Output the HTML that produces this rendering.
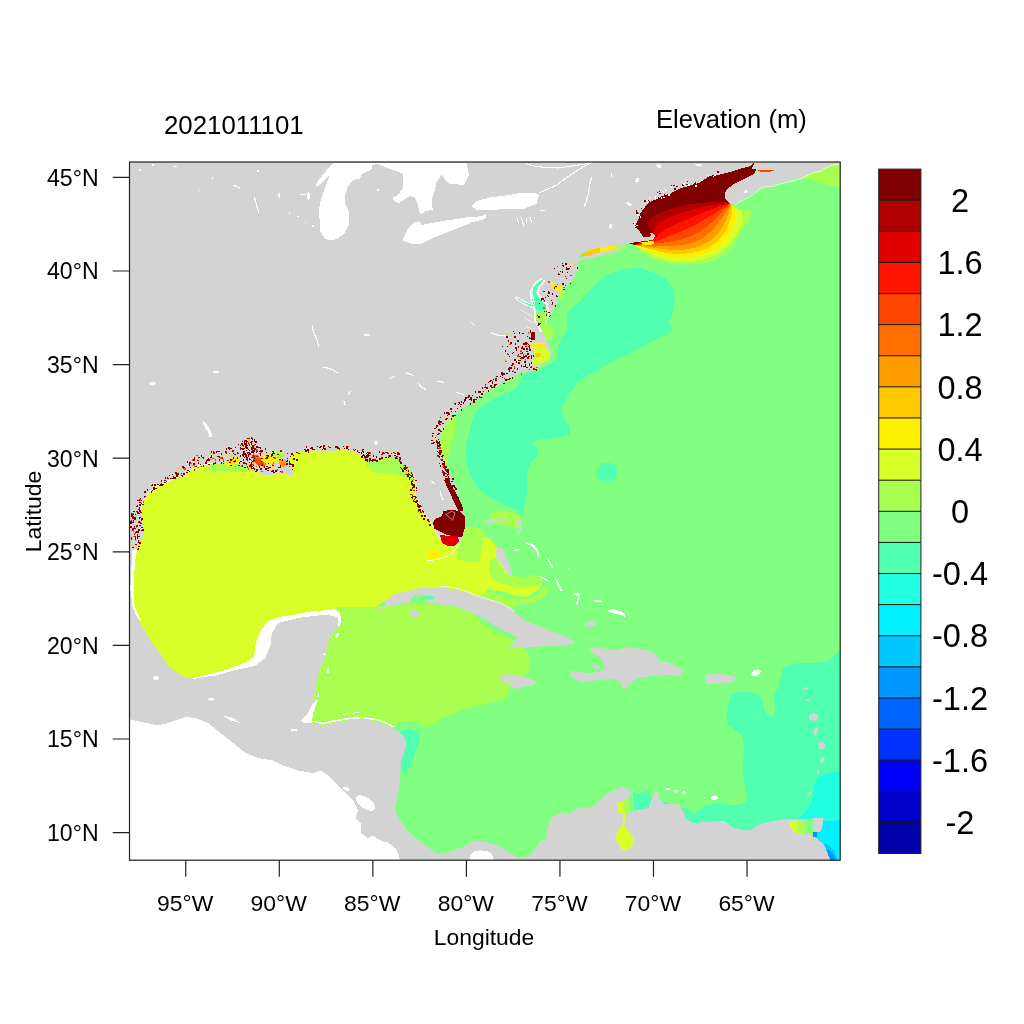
<!DOCTYPE html><html><head><meta charset="utf-8"><title>Elevation</title><style>html,body{margin:0;padding:0;background:#fff;overflow:hidden}svg{display:block}text{font-family:"Liberation Sans",Arial,sans-serif;fill:#000}</style></head><body>
<svg width="1024" height="1024" viewBox="0 0 1024 1024">
<rect width="1024" height="1024" fill="#fff"/>
<defs><clipPath id="pc"><rect x="129.5" y="162.0" width="710.7" height="698.2"/></clipPath></defs>
<g clip-path="url(#pc)" shape-rendering="crispEdges">
<path fill="#80ff80" d="M127.5 160 L842.2 160 L842.2 862.2 L127.5 862.2Z"/>
<path fill="#50ffb0" d="M640 267.5 L650 271.2 L665 277.5 L672.5 287.5 L675 300 L672.5 312.5 L668.8 320 L672.5 330 L665 335 L650 342.5 L632.5 352.5 L615 360 L600 369.1 L588.4 375.3 L577.5 383.1 L568.1 395.6 L561.9 408.1 L563.4 417.5 L569.7 426.9 L569.7 434.7 L558.8 437.8 L540 439.4 L532.2 442.5 L536.9 448.8 L538.4 455 L530.6 462.8 L527.5 470.6 L526.7 480 L527.5 490 L526.5 495 L524 507.5 L521.5 517.5 L519 512.5 L511.5 507.5 L499 502.5 L486.5 495 L479 490 L475.9 484.7 L471.2 476.9 L466.6 464.4 L465.8 448.8 L468.1 436.2 L471.2 423.8 L475.9 412.8 L483.8 405 L493.1 398.8 L502.5 394.1 L511.9 390.9 L518.1 386.2 L522.8 376.9 L527.5 372.2 L536.9 370.6 L549.4 364.4 L557.9 358 L558.8 344 L560.8 338.1 L564.7 334.2 L567.6 330.3 L566.6 323.5 L566.6 316.6 L568.6 310.8 L572.5 306.9 L578.4 303 L584.2 297.1 L590.1 289.3 L597.9 282.5 L603.8 276.6 L610 273.7 L624 268.8Z"/>
<path fill="#50ffb0" d="M617.5 472 L616.7 475.6 L614.4 478.7 L611 480.8 L607 481.5 L603 480.8 L599.6 478.7 L597.3 475.6 L596.5 472 L597.3 468.4 L599.6 465.3 L603 463.2 L607 462.5 L611 463.2 L614.4 465.3 L616.7 468.4Z"/>
<path fill="#50ffb0" d="M841 650.9 L838.8 650.9 L832.5 657.2 L826.2 661.9 L813.8 662.7 L798.1 662.7 L785.6 666.6 L780.9 669.7 L782.5 674.4 L779.4 680.6 L777.8 688.4 L773.1 694.7 L774.7 702.5 L774.7 711.9 L771.6 716.6 L766.9 715 L763.8 707.2 L762.2 699.4 L757.5 694.7 L748.1 692.3 L735.6 692.3 L730.9 694.7 L727.8 705.6 L726.2 715 L727.8 724.4 L735.6 730.6 L741.9 735.3 L744.2 746.2 L743.4 757.2 L743.4 772.8 L745 788.4 L747.5 800 L745 803 L732.5 805.5 L717.5 803 L705 805.5 L695 813 L685 808 L675 805.5 L660 800 L645 795 L633 792 L632 800 L660 830 L841 830Z"/>
<path fill="#20ffe0" d="M841 771 L838.8 771.2 L829.4 772.8 L820 775.9 L813.8 785.3 L812.2 800 L809.7 806 L805 812 L800 818 L841 861Z"/>
<path fill="#00f0ff" d="M816 822 L841 820 L841 861 L830 861 L827 852 L824 844.4 L817.7 839.6 L814 836Z"/>
<path fill="#00c8ff" d="M824 843.5 L829 845 L834 851 L837 858 L837 861 L830 861 L827 852Z"/>
<path fill="#0096ff" d="M827 850 L831 851 L834.5 856 L835 861 L830 861Z"/>
<path fill="#d8ff28" d="M125 430 L300 430 L380 445 L420 465 L425 480 L432 505 L441 530 L452 548 L459 532 L470 528 L483 536 L492 540 L497 548 L499 556 L504 566 L509 574 L520 579 L535 578.5 L540.3 578.2 L542 584 L538 590 L527 597 L515 596 L500 591 L488 590 L480 596 L460 593 L440 591 L420 590 L400 594 L385 601 L374 607 L360 607.5 L335 607.5 L335 640 L255 690 L125 690Z"/>
<path fill="#a8ff50" d="M335 607.5 L372 607 L420 603 L466 608 L476.5 618 L489 628 L504 635.5 L516.5 643 L526.5 650.5 L530.2 660.5 L529 670.5 L521.5 678 L511.5 683 L509 690.5 L506.5 698 L494 701.8 L479 705.5 L462.3 709.5 L452.8 714.2 L443.3 717.4 L433.8 723.7 L425.9 727.7 L418 722.2 L408.5 720.6 L399 722.2 L392.7 727.7 L380 730 L300 730 L300 640 L328 640 L333 633 L335 614Z"/>
<path fill="#50ffb0" d="M400.6 731.6 L408.5 729.3 L416.4 730.9 L420.3 736.4 L418 745.9 L413.2 755.4 L410.1 766.5 L402.2 774.4 L400.6 769.6 L398 760 L398 740Z"/>
<path fill="#a8ff50" d="M800 178 L808.5 179 L818.6 182.2 L828.8 185.4 L841 187.3 L841 160 L800 160Z"/>
<path fill="#a8ff50" d="M364 457 L372 462 L385 456 L395 456 L405 464 L414 473 L417 482 L415.5 487 L414.4 481.4 L411.2 479 L405.8 477.5 L398 475.2 L390.2 473.6 L378.4 472.8 L373 472 L365.9 465Z"/>
<path fill="#a8ff50" d="M449 419.6 L452 414 L456.2 421 L455 432 L451 445 L448 458 L446.5 468 L448.5 476 L445 470 L442 460 L440 448 L441 435 L444 426.7Z"/>
<path fill="#a8ff50" d="M457.6 528.8 L465.4 526.9 L479 527.9 L484.9 530.8 L484.9 538.6 L482 544.5 L481 554.2 L479 562 L469.3 562 L458.6 560.1 L456.6 550.3 L457.6 538.6Z"/>
<path fill="#a8ff50" d="M489.8 560.1 L496.6 558.1 L498.6 562 L504.5 571.8 L510.3 576.7 L518.1 578.6 L525.9 577.7 L531.8 573.8 L529.8 567.9 L524 560.1 L522 557.1 L525.9 557.1 L531.8 562 L537.7 571.8 L541.6 577.7 L543.5 581.6 L537.7 585.5 L525.9 587.4 L514.2 586.5 L502.5 583.5 L492.7 579.6 L488.8 571.8Z"/>
<path fill="#80ff80" d="M522 557.5 L526 557 L532 562 L537.5 571.5 L541 577 L532 574 L528 567 L524 561Z"/>
<path fill="#a8ff50" d="M486.9 591.3 L498 594.5 L508.4 597.2 L518 598.5 L527.9 599.1 L537.7 595.2 L545.5 585.5 L549.4 589.4 L543.5 597.2 L533.8 603 L518.1 605 L509.5 608.7 L499.2 602.6 L488.9 599.5 L480 597Z"/>
<path fill="#a8ff50" d="M490.8 513 L500 511 L512 512 L520 516 L522 522 L521 528.8 L512 527 L500 525 L491 522Z"/>
<path fill="#a8ff50" d="M636.3 247 L640.2 250.9 L649 257.2 L659.2 261 L671.9 263.6 L687.1 264.2 L703.6 263.6 L716.3 259.7 L726.5 253.4 L735.4 243.2 L739.2 233.1 L744.3 226.7 L749.3 220.4 L751.9 214 L749.3 210.2 L737.9 209 L732 204.5 L745 195 L760 161 L618 161 L618 240 L635 245Z"/>
<path fill="#d8ff28" d="M641 249.5 L643.9 250.8 L654.6 256.6 L669.3 261 L686.9 262.5 L703.5 259.6 L718.1 253.7 L728.9 244.9 L736.7 235.2 L741 226 L743.5 217 L741 211 L735.4 207.7 L731.5 204.3 L745 195 L760 161 L618 161 L618 240 L635 245Z"/>
<path fill="#fff000" d="M646 249.5 L649.8 250.8 L659.5 254.7 L674.2 257.6 L688.8 258.1 L703.5 254.7 L716.2 248.8 L725.9 240 L732.8 229.3 L735.7 218.6 L734.7 209.8 L732.3 205.9 L731 204 L745 195 L760 161 L618 161 L618 240 L635 245Z"/>
<path fill="#ffc800" d="M652.7 249.8 L664.4 252.7 L679.1 254.2 L693.7 252.7 L706.4 248.8 L717.1 242 L725 232.2 L729.8 221.5 L732.3 211.7 L731.8 205.9 L730.5 203.8 L745 195 L760 161 L618 161 L618 240 L635 245Z"/>
<path fill="#ff9c00" d="M654.6 247.9 L669.3 249.8 L683.9 249.8 L698.6 246.9 L710.3 241 L719.1 232.2 L725 222.5 L728.9 212.7 L730.8 205.4 L730.3 203.6 L745 195 L760 161 L618 161 L618 240 L635 245Z"/>
<path fill="#ff7000" d="M654.6 245.9 L669.3 245.9 L683.9 244.9 L694.7 242 L704.5 237.1 L713.2 229.3 L721 219.5 L726.9 210.7 L730.3 204.9 L730 203.4 L745 195 L760 161 L618 161 L618 240 L635 245Z"/>
<path fill="#ff4600" d="M654.6 243.9 L667.3 242 L679.1 240 L688.8 237.1 L698.6 232.2 L708.4 225.4 L717.1 217.6 L724 209.8 L729.8 204.4 L729.8 203.2 L745 195 L760 161 L618 161 L618 240 L635 245Z"/>
<path fill="#ff1400" d="M654.6 242 L664.4 238.1 L674.2 234.2 L683.9 230.3 L694.7 225.4 L704.5 219.5 L714.2 213.7 L723 207.8 L729.4 203.9 L729.6 203 L745 195 L760 161 L618 161 L618 240 L635 245Z"/>
<path fill="#e00000" d="M654.6 239.1 L659.5 233.2 L667.3 228.3 L677.1 223.4 L686.9 219.5 L698.6 214.6 L710.3 209.8 L721 205.9 L728.9 203.4 L729.5 202.8 L745 195 L760 161 L618 161 L618 240 L635 245Z"/>
<path fill="#b00000" d="M653.7 235.2 L653.7 231.2 L656.6 225.4 L662.5 220.5 L671.2 216.6 L682 212.7 L693.7 209.3 L706.4 206.3 L718.1 204.4 L727.9 202.9 L729.5 202.6 L745 195 L760 161 L618 161 L618 240 L635 245Z"/>
<path fill="#800000" d="M652.7 233.2 L648.8 228.3 L647.8 222.5 L650.7 217.6 L657.6 213.7 L667.3 209.8 L677.1 206.8 L688.8 204.4 L700.5 202.9 L713.2 202 L725 202 L729.8 202.4 L745 195 L760 161 L618 161 L618 240 L635 245Z"/>
<path fill="#d3d3d3" d="M127 160 L843 160 L843 163.2 L838.9 163.2 L833.9 163.8 L828.8 165.7 L823.7 167.6 L821.2 170.2 L813.6 171.4 L808.5 174 L803.4 176.5 L795.8 179 L788.2 181 L780.6 182.9 L772.9 185.4 L765.3 185.4 L760.2 187.9 L755.2 191.7 L747.5 196.8 L739.9 200.6 L734.9 204.4 L729.8 203.2 L724.7 198.1 L724.7 193 L727.2 189.2 L733.6 184.1 L741.2 180.3 L748.8 176.5 L756.4 172.7 L761 171.3 L757 169.8 L752 168.5 L753.9 164 L755.5 162.5 L754 162.5 L750.1 166.3 L742.5 168 L734.9 170.5 L727.2 172.9 L720 174.5 L712.5 175.3 L707 177.5 L701.2 182 L695 184.3 L687.5 186.2 L680 188.6 L675 191 L670 193.8 L662.5 195.8 L657.5 198.8 L651.2 201.2 L647.5 203.8 L643.8 208.8 L640 213.8 L638.8 218.8 L636.2 223.8 L635 227.5 L638.8 230 L641.2 233.8 L643 237 L648 237.5 L651.5 236 L649.5 232.5 L652.9 233.1 L654.8 235.6 L654.3 238.8 L651.6 240.2 L646 240.8 L642.7 241.2 L636.3 242.3 L633.5 242.6 L628.6 243.4 L624.7 244.9 L618.8 245.9 L609.1 246.9 L599.3 248.3 L589.5 250.3 L582.7 253.2 L579.5 256 L578.6 260 L578.4 263.9 L577.4 269.8 L575.4 275.6 L571.5 280.5 L566.6 286.4 L562.7 290.3 L559.8 293.2 L558.8 297.1 L557.9 301 L555.9 305.9 L553 310.8 L549.1 316.6 L546.1 321.5 L543.2 324.5 L542.2 328.4 L542.2 330.3 L544.2 334.2 L546.1 338.1 L548.1 343 L550 347.9 L551 353.8 L550.3 358.5 L549.4 359.9 L540.6 365.2 L533.6 370.4 L523 372.2 L514.3 375.7 L507.2 381 L500.2 384.5 L491.4 388 L484.4 393.3 L479.1 398.6 L470.3 403.8 L461.5 409.1 L454.5 414.4 L449.2 419.6 L443.9 426.7 L440.4 435.5 L439.5 444.3 L441.9 452.7 L444.4 462.9 L448.2 471.7 L453.3 480.6 L455.9 488.2 L458.4 495.9 L460.9 503.5 L463.5 511.1 L464.7 518.7 L464.7 528.9 L463.5 536.5 L460.9 541.6 L457.1 545.4 L450.8 546.6 L445.7 545.4 L441.9 540.3 L436.8 533.9 L433 527.6 L430.5 521.3 L425.4 516.2 L421.6 508.6 L417.8 500.9 L415.2 494.6 L416.5 488.2 L415.8 481 L413.5 474.5 L409.5 469 L405.2 465.6 L400.6 461.6 L394.4 457.3 L388.1 456.6 L383.4 457.3 L377.2 460.5 L369.4 461.2 L364.7 459.7 L360 455 L353.8 451.9 L347.5 450.3 L338.1 450.3 L330.3 451.1 L322.5 451.9 L314.7 450.3 L306.9 451.9 L300.6 451.4 L294.3 452.7 L290.4 456.5 L289.2 462.9 L291.7 467.9 L294.3 473 L291.7 475.5 L284.1 473.6 L276.5 474.3 L268.9 474.9 L261.3 474.3 L256.2 471.7 L251.1 469.2 L243.5 467.9 L235.9 467.3 L228.2 465.4 L220.6 464.1 L213 463.5 L205.4 464.8 L199.1 466.5 L190.5 470.8 L179.8 477.2 L169 481.5 L158.3 485.8 L149.7 492.3 L143.2 500.9 L141.1 511.6 L142.1 522.4 L144.3 533.1 L141.1 541.7 L137.8 548.2 L132.5 550.3 L131.4 567.5 L130.3 589 L132.5 606.2 L136.8 617 L145.4 632 L154 645 L160.4 653.5 L169 666.5 L177.6 672.9 L184.1 677.2 L190.5 678 L203 676.5 L215.5 675.5 L233 670.5 L245.5 668 L255.5 665.5 L265.5 658 L270.5 645.5 L271.8 633 L278 623 L298 618 L318 615.5 L333 614.2 L338 618 L340.5 623 L338 628 L333 633 L328 643 L325.5 658 L320.5 668 L318 675.5 L315.5 690.5 L313 703 L308 713 L300.5 720.5 L303 723 L313 723 L323 725.5 L333 723 L348 720.5 L363 719.2 L378 721.8 L380 723.7 L387.9 725.3 L392.7 728.5 L400.6 733.2 L405.3 738 L406.1 745.9 L403.7 753.8 L401.4 760.1 L400.6 768 L399.8 779.1 L399 788.6 L397.4 798.1 L395 807.6 L397.4 815.5 L402.2 823.4 L408.5 831.3 L414.8 837.7 L421.1 842.4 L427.5 847.2 L433.8 851.9 L440.1 854.3 L446.5 853.5 L454.4 850.3 L462.3 847.2 L468.6 844 L471.8 841.6 L478.1 840.8 L486 842.4 L493.9 844 L503.4 848.7 L511.3 853.5 L517.7 857.4 L522.4 858.2 L530.3 855.9 L534.7 849.7 L539.4 841.9 L545.6 838.8 L547.2 829.4 L550.3 818.4 L555 816.1 L562.8 812.2 L569.1 814.5 L573.8 810.6 L576.9 808.3 L589.4 808.3 L595.6 805.2 L601.9 798.1 L608.1 793.4 L615.9 788.8 L623.8 786.4 L630 790.3 L631.6 795 L626.9 799.7 L620.6 802.8 L617 806 L625 812 L640 810 L648.8 807.8 L650.3 803.4 L654.7 792 L655.9 790.3 L658.1 791.9 L659.4 797.8 L662.8 803.4 L670.6 804.4 L678.4 804.4 L683.2 811.1 L686.3 819.1 L692.7 823 L703.7 822.2 L714.8 821.4 L724.3 820.6 L727.5 823.8 L733.8 827.8 L743.3 830.1 L751.2 830.1 L756 826.2 L762.3 823.8 L771.8 821.4 L782.8 819.8 L790.8 819.1 L800.3 819.1 L806.6 819.1 L814.5 818.3 L822.4 817.5 L823.2 820.6 L822.4 823.8 L820.8 830.1 L812.9 831.7 L811.3 834.9 L817.7 839.6 L824 844.4 L827.2 852.3 L830.3 860.2 L831 863 L127 863Z"/>
<path fill="#d3d3d3" d="M374.1 610.8 L384.4 606.7 L386.4 600.5 L394.6 594.4 L406.9 591.3 L419.2 588.2 L431.5 587.2 L443.8 588.2 L456.1 589.2 L466.4 592.3 L476.6 596.4 L488.9 599.5 L499.2 602.6 L509.5 608.7 L517.7 614.9 L525.9 621 L534.1 624.1 L544.3 627.2 L550.5 631.3 L558.7 633.3 L566.9 637.4 L575.1 641.5 L573 643.6 L562.8 645.6 L550.5 645.6 L538.2 646.7 L525.9 647.7 L513.6 647.7 L509.5 646.7 L513.6 641.5 L517.7 637.4 L509.5 633.3 L501.3 629.2 L493.1 625.1 L484.8 619 L476.6 614.9 L466.4 610.8 L458.2 606.7 L447.9 605.6 L439.7 604.6 L431.5 602.6 L423.3 602.6 L415.1 602.6 L406.9 602.6 L396.7 604.6 L388.5 605.6 L382.3 608.7 L376.2 610.8Z"/>
<path fill="#d3d3d3" d="M589.3 649.5 L595.2 647.6 L604.9 648.6 L612.7 650.5 L620.5 649.5 L624.5 647.6 L634.2 647.6 L642 649.5 L651.8 651.5 L655.7 654.4 L657.7 659.3 L661.6 661.3 L669.4 663.2 L675.2 665.2 L681.1 669.1 L684 672 L681.1 674.9 L677.2 675.9 L669.4 674.9 L661.6 674.9 L653.8 675.9 L644 676.9 L638.1 677.9 L634.2 680.8 L630.3 684.7 L626.4 688.6 L624.5 690.5 L622.5 686.6 L620.5 682 L613.1 678.5 L604 679.5 L596 680.5 L588 681.5 L580.9 681.5 L574 679 L570.2 676 L569.8 673.5 L571.7 671 L579.5 672 L589.3 673 L599.1 672 L604.9 669.1 L603.9 664.2 L602 659.3 L597.1 655.4 L591.3 652.5 L589.3 650.5Z"/>
<path fill="#d3d3d3" d="M497.8 676.8 L506.5 674.2 L519 675.5 L531.5 679.2 L536.5 683 L531.5 685.5 L524 685.5 L519 689.2 L514 688 L506.5 683 L499 679.2Z"/>
<path fill="#d3d3d3" d="M704.5 674.9 L716.3 673.9 L728 674.9 L734.8 675.9 L735.8 678.8 L731.9 682.7 L720.2 683.7 L708.4 684.3 L705.5 681.8Z"/>
<path fill="#d3d3d3" d="M578.8 261 L589.5 258.6 L599.3 256.1 L609.1 253.7 L618.8 251.3 L624.5 249.6 L625.5 248.5 L618.8 248.9 L612 249.9 L604.2 251.8 L594.4 253.8 L584 256.5 L580 258.3Z"/>
<path fill="#d3d3d3" d="M496.6 548.4 L502.5 548.4 L506.4 558.1 L510.3 565.9 L512.3 573.8 L509.3 575.7 L506.4 571.8 L502.5 565.9 L498.6 560.1 L495.7 556.2Z"/>
<path fill="#d3d3d3" d="M419 613.8 L418.6 615.2 L417.5 616.3 L415.9 617.1 L414 617.4 L412.1 617.1 L410.5 616.3 L409.4 615.2 L409 613.8 L409.4 612.4 L410.5 611.3 L412.1 610.5 L414 610.2 L415.9 610.5 L417.5 611.3 L418.6 612.4Z"/>
<path fill="#d3d3d3" d="M600.2 668.1 L599.8 668.6 L598.8 668.9 L597.3 669 L595.7 668.8 L594.1 668.3 L592.8 667.7 L592 667 L591.8 666.3 L592.2 665.8 L593.2 665.5 L594.7 665.4 L596.3 665.6 L597.9 666.1 L599.2 666.7 L600 667.4Z"/>
<path fill="#d3d3d3" d="M818 717 L817.7 718.5 L816.7 719.7 L815.2 720.5 L813.5 720.8 L811.8 720.5 L810.3 719.7 L809.3 718.5 L809 717 L809.3 715.5 L810.3 714.3 L811.8 713.5 L813.5 713.2 L815.2 713.5 L816.7 714.3 L817.7 715.5Z"/>
<path fill="#d3d3d3" d="M817.5 732 L816.9 733.3 L816.2 734.4 L815.3 735.1 L814.5 735.1 L813.9 734.6 L813.6 733.6 L813.6 732.3 L813.9 730.8 L814.5 729.5 L815.2 728.4 L816.1 727.7 L816.9 727.7 L817.5 728.2 L817.8 729.2 L817.8 730.5Z"/>
<path fill="#d3d3d3" d="M824.4 744 L824.9 745.4 L824.9 746.8 L824.4 748.1 L823.5 748.9 L822.3 749.2 L820.9 749 L819.7 748.2 L818.8 747 L818.3 745.6 L818.3 744.2 L818.8 742.9 L819.7 742.1 L820.9 741.8 L822.3 742 L823.5 742.8Z"/>
<path fill="#d3d3d3" d="M823.9 760.5 L823.2 761.7 L822.5 762.6 L821.7 763.1 L821 763.1 L820.6 762.6 L820.4 761.7 L820.5 760.6 L820.9 759.3 L821.6 758.1 L822.3 757.2 L823.1 756.7 L823.8 756.7 L824.2 757.2 L824.4 758.1 L824.3 759.2Z"/>
<path fill="#d3d3d3" d="M819.5 772 L819.4 772.9 L819.2 773.6 L818.8 774.1 L818.4 774.3 L818 774.1 L817.6 773.6 L817.4 772.9 L817.3 772 L817.4 771.1 L817.6 770.4 L818 769.9 L818.4 769.7 L818.8 769.9 L819.2 770.4 L819.4 771.1Z"/>
<path fill="#d3d3d3" d="M810.1 794.6 L809.6 795.3 L809 795.9 L808.4 796.1 L807.9 796 L807.5 795.6 L807.4 795 L807.5 794.2 L807.9 793.4 L808.4 792.7 L809 792.1 L809.6 791.9 L810.1 792 L810.5 792.4 L810.6 793 L810.5 793.8Z"/>
<path fill="#d3d3d3" d="M807.6 688.5 L807.5 689 L807.1 689.5 L806.6 689.8 L806 689.9 L805.4 689.8 L804.9 689.5 L804.5 689 L804.4 688.5 L804.5 688 L804.9 687.5 L805.4 687.2 L806 687.1 L806.6 687.2 L807.1 687.5 L807.5 688Z"/>
<path fill="#d3d3d3" d="M809.1 699.8 L809 700.3 L808.6 700.7 L808 701 L807.3 701.1 L806.6 701 L806 700.7 L805.6 700.3 L805.5 699.8 L805.6 699.3 L806 698.9 L806.6 698.6 L807.3 698.5 L808 698.6 L808.6 698.9 L809 699.3Z"/>
<path fill="#ffffff" d="M760.4 670.6 L760.6 671.8 L760.1 673.2 L759 674.5 L757.4 675.6 L755.6 676.3 L753.9 676.6 L752.5 676.2 L751.6 675.4 L751.4 674.2 L751.9 672.8 L753 671.5 L754.6 670.4 L756.4 669.7 L758.1 669.4 L759.5 669.8Z"/>
<path fill="#ffffff" d="M717.7 798 L717.5 798.8 L716.8 799.4 L715.7 799.8 L714.5 800 L713.3 799.8 L712.2 799.4 L711.5 798.8 L711.3 798 L711.5 797.2 L712.2 796.6 L713.3 796.2 L714.5 796 L715.7 796.2 L716.8 796.6 L717.5 797.2Z"/>
<path fill="#ffffff" d="M678.3 792 L677.9 792.4 L677.3 792.5 L676.4 792.5 L675.5 792.2 L674.7 791.7 L674 791.2 L673.7 790.6 L673.7 790 L674.1 789.6 L674.7 789.5 L675.6 789.5 L676.5 789.8 L677.3 790.3 L678 790.8 L678.3 791.4Z"/>
<path fill="#ffffff" d="M685.8 792.5 L685.7 793 L685.3 793.3 L684.7 793.6 L684 793.7 L683.3 793.6 L682.7 793.3 L682.3 793 L682.2 792.5 L682.3 792 L682.7 791.7 L683.3 791.4 L684 791.3 L684.7 791.4 L685.3 791.7 L685.7 792Z"/>
<path fill="#ffffff" d="M669.8 789 L669.7 789.5 L669.3 789.8 L668.7 790.1 L668 790.2 L667.3 790.1 L666.7 789.8 L666.3 789.5 L666.2 789 L666.3 788.5 L666.7 788.2 L667.3 787.9 L668 787.8 L668.7 787.9 L669.3 788.2 L669.7 788.5Z"/>
<path fill="#d3d3d3" d="M484.9 519.5 L495 518.8 L504.5 519.5 L504.5 522.5 L495 522.3 L485.5 523Z"/>
<path fill="#d3d3d3" d="M514.2 519 L518 519.5 L522 523 L522 530 L519 534.7 L517.5 533.5 L519.5 528 L518 523 L515 521Z"/>
<path fill="#d3d3d3" d="M584.5 624 L590 621 L596.2 620.6 L595.5 625 L590 627.5 L585 627.2Z"/>
<path fill="#ffffff" d="M525.5 542 L531.8 543.8 L538 549.8 L539.6 557.1 L538 557.5 L536.8 550.8 L531.2 545.5 L526 543.8Z"/>
<path fill="#ffffff" d="M546.4 558 L547.6 558 L553.3 567 L552.2 568Z"/>
<path fill="#ffffff" d="M537.7 575.7 L539 575.5 L549.4 581 L548.5 582Z"/>
<path fill="#ffffff" d="M554.3 576.7 L555.5 576.5 L559 584 L562 590.5 L560.8 591.3 L557.5 585Z"/>
<path fill="#ffffff" d="M572.8 592.5 L578 593 L580.6 595 L577 605 L575.8 604.5 L578.5 596.5 L574 594.5Z"/>
<path fill="#ffffff" d="M594.3 600 L600 599.8 L602 601.5 L600 602.3 L595 601.8Z"/>
<path fill="#ffffff" d="M608 610.5 L612 609 L617 610 L622 612 L625.5 615 L624.5 616.7 L619 614.3 L611 612.8Z"/>
<path fill="#ffffff" d="M519.9 549.1 L519.8 549.5 L519.2 550 L518.4 550.5 L517.3 551 L516.2 551.2 L515.2 551.3 L514.5 551.2 L514.1 550.9 L514.2 550.5 L514.8 550 L515.6 549.5 L516.7 549 L517.8 548.8 L518.8 548.7 L519.5 548.8Z"/>
<path fill="#ffffff" d="M570 569 L569.9 569.6 L569.7 570.1 L569.4 570.4 L569 570.5 L568.6 570.4 L568.3 570.1 L568.1 569.6 L568 569 L568.1 568.4 L568.3 567.9 L568.6 567.6 L569 567.5 L569.4 567.6 L569.7 567.9 L569.9 568.4Z"/>
<path fill="#ffffff" d="M127 719.2 L130 719.2 L140.5 721.8 L158 725.5 L168 723 L185.5 716.8 L195.5 718 L208 723 L220.5 733 L233 743 L245.5 753 L258 758 L273 760.5 L283 765.5 L298 770.5 L313 773 L320.5 770.5 L328 775.5 L333 780.5 L340.5 788 L345.5 793 L353 800.5 L358 810.5 L355.5 818 L360.5 823 L360.5 833 L368 838 L373 835.5 L378 839.2 L384 841.8 L387.9 842.4 L395.8 848.7 L399 855 L400.6 863 L127 863Z"/>
<path fill="#ffffff" d="M469.5 863 L470.5 855 L474 851.5 L480 850.3 L488 851.5 L492 854 L494.5 863Z"/>
<path fill="#ffffff" d="M333 163 L326 171 L318 181 L315.5 186 L319 185.5 L326 178 L329 176 L326 186 L323 193 L320 203 L318.8 212 L320 222 L320 231 L325 238.8 L330 240.6 L337.5 238.8 L343.8 233.8 L348.8 225 L349.4 213.8 L347.5 208 L345 202.5 L345 195 L348 187 L350 183.8 L353.8 180 L360 178.8 L361.2 175 L365 172.5 L371.2 170 L372.5 165 L377.5 164 L385 167 L397.5 171.2 L402.5 173.8 L403.1 178.8 L402.5 188.8 L397.5 195 L392.5 197.5 L393.8 201.2 L398.8 203.1 L405 198.8 L410 196.2 L415 197.5 L417.5 203.8 L420 213.8 L421.5 213.8 L426 211 L432.8 210 L431.5 200 L434 192.5 L436.5 182.5 L441.5 175 L449 183.8 L464 185 L469 175 L466.5 163Z"/>
<path fill="#ffffff" d="M402.8 240 L406 232.5 L409 227.5 L414 222.5 L419 221.2 L421.5 225 L434 222.5 L449 220 L466.5 217.5 L481.5 216.2 L486.5 213.8 L485.2 218.8 L471.5 222.5 L459 227.5 L446.5 232.5 L434 237.5 L421.5 243.8 L411.5 243.8 L404 241.2Z"/>
<path fill="#ffffff" d="M471.5 206.2 L476.5 201.2 L489 197.5 L509 195 L524 192.5 L534 192.5 L539 195 L536.5 203.8 L524 208.8 L509 208.8 L491.5 210 L476.5 210Z"/>
<path fill="#ffffff" d="M192.8 678.3 L207.7 674.6 L227.7 669.6 L247.6 661.3 L254.2 656.3 L255.9 643 L260.9 629.8 L267.5 621.5 L277.5 617.3 L298 614 L308 611.8 L323 610.5 L335.5 609.2 L337 611 L333 614.2 L318 615.5 L298 618 L278 623 L271.8 633 L270.5 645.5 L265.5 658 L255.5 665.5 L245.5 668 L233 670.5 L215.5 675.5 L203 677 L193 679Z"/>
<path fill="#ffffff" d="M137.8 548.2 L135.7 556.8 L134.6 567.5 L134.2 580.4 L133.5 593.3 L134.6 606.2 L137.5 613 L141 619.5 L139 620 L136.8 617 L132.5 606.2 L130.3 589 L131.4 567.5 L132.5 550.3Z"/>
<path fill="#ffffff" d="M311.8 723 L313 713 L316.8 703 L318.5 699 L313 703 L308 713 L300.5 720.5 L303 723Z"/>
<path fill="#ffffff" d="M330 612 L336 610.5 L339.5 612.5 L341 617 L341 622 L339.8 625.5 L338 626 L338.6 621 L337.5 617.5 L334 616.3 L330 615.5Z"/>
<path fill="#ffffff" d="M631.5 204.8 L631.1 205.3 L630.4 205.6 L629.5 205.6 L628.6 205.4 L627.6 205 L626.9 204.5 L626.5 203.8 L626.5 203.2 L626.9 202.7 L627.6 202.4 L628.5 202.4 L629.4 202.6 L630.4 203 L631.1 203.5 L631.5 204.2Z"/>
<path fill="#ffffff" d="M638.9 181.1 L638.3 181.9 L637.5 182.4 L636.8 182.6 L636.1 182.5 L635.5 182 L635.3 181.2 L635.4 180.3 L635.7 179.3 L636.3 178.5 L637.1 178 L637.8 177.8 L638.5 177.9 L639.1 178.4 L639.3 179.2 L639.2 180.1Z"/>
<path fill="#ffffff" d="M612 226.6 L611.5 227.5 L610.9 228.1 L610.2 228.4 L609.5 228.3 L609 227.9 L608.8 227.2 L608.8 226.3 L609 225.4 L609.5 224.5 L610.1 223.9 L610.8 223.6 L611.5 223.7 L612 224.1 L612.2 224.8 L612.2 225.7Z"/>
<path fill="#ffffff" d="M612.3 175 L612.2 176 L612 176.8 L611.7 177.3 L611.4 177.5 L611.1 177.3 L610.8 176.8 L610.6 176 L610.5 175 L610.6 174 L610.8 173.2 L611.1 172.7 L611.4 172.5 L611.7 172.7 L612 173.2 L612.2 174Z"/>
<path fill="#ffffff" d="M661 166.9 L660.5 167.5 L659.7 167.8 L658.8 167.8 L657.8 167.5 L657.1 166.9 L656.6 166.1 L656.4 165.3 L656.6 164.5 L657.1 163.9 L657.9 163.6 L658.8 163.6 L659.8 163.9 L660.5 164.5 L661 165.3 L661.2 166.1Z"/>
<path fill="#ffffff" d="M702 164.8 L701.7 165.3 L701 165.6 L699.8 165.9 L698.5 166 L697.2 165.9 L696 165.6 L695.3 165.3 L695 164.8 L695.3 164.3 L696 164 L697.2 163.7 L698.5 163.6 L699.8 163.7 L701 164 L701.7 164.3Z"/>
<path fill="#ffffff" d="M747.6 191.7 L747.5 192.3 L747.1 192.8 L746.5 193.1 L745.8 193.2 L745.1 193.1 L744.5 192.8 L744.1 192.3 L744 191.7 L744.1 191.1 L744.5 190.6 L745.1 190.3 L745.8 190.2 L746.5 190.3 L747.1 190.6 L747.5 191.1Z"/>
<path fill="#ffffff" d="M280.2 195.5 L280.1 196.6 L279.9 197.6 L279.6 198.3 L279.3 198.5 L279 198.3 L278.7 197.6 L278.5 196.6 L278.4 195.5 L278.5 194.4 L278.7 193.4 L279 192.7 L279.3 192.5 L279.6 192.7 L279.9 193.4 L280.1 194.4Z"/>
<path fill="#ffffff" d="M306.5 194.4 L306.2 194.7 L305.5 194.9 L304.3 195 L303 195.1 L301.7 195 L300.5 194.9 L299.8 194.7 L299.5 194.4 L299.8 194.1 L300.5 193.9 L301.7 193.8 L303 193.7 L304.3 193.8 L305.5 193.9 L306.2 194.1Z"/>
<path fill="#ffffff" d="M141.5 170 L141.4 170.3 L141.1 170.6 L140.6 170.7 L140 170.8 L139.4 170.7 L138.9 170.6 L138.6 170.3 L138.5 170 L138.6 169.7 L138.9 169.4 L139.4 169.3 L140 169.2 L140.6 169.3 L141.1 169.4 L141.4 169.7Z"/>
<path fill="#ffffff" d="M155 165 L154.8 165.3 L154.4 165.5 L153.8 165.6 L153 165.7 L152.2 165.6 L151.6 165.5 L151.2 165.3 L151 165 L151.2 164.7 L151.6 164.5 L152.2 164.4 L153 164.3 L153.8 164.4 L154.4 164.5 L154.8 164.7Z"/>
<path fill="#ffffff" d="M177 166.5 L176.8 166.8 L176.4 167 L175.8 167.1 L175 167.2 L174.2 167.1 L173.6 167 L173.2 166.8 L173 166.5 L173.2 166.2 L173.6 166 L174.2 165.9 L175 165.8 L175.8 165.9 L176.4 166 L176.8 166.2Z"/>
<path fill="#ffffff" d="M200.5 190.3 L200.4 190.6 L200.2 190.9 L199.9 191 L199.5 191.1 L199.1 191 L198.8 190.9 L198.6 190.6 L198.5 190.3 L198.6 190 L198.8 189.7 L199.1 189.6 L199.5 189.5 L199.9 189.6 L200.2 189.7 L200.4 190Z"/>
<path fill="#ffffff" d="M213.2 178 L213.1 178.3 L213 178.6 L212.8 178.8 L212.5 178.9 L212.2 178.8 L212 178.6 L211.9 178.3 L211.8 178 L211.9 177.7 L212 177.4 L212.2 177.2 L212.5 177.1 L212.8 177.2 L213 177.4 L213.1 177.7Z"/>
<path fill="#ffffff" d="M259 171.3 L258.9 171.7 L258.7 172 L258.4 172.2 L258 172.3 L257.6 172.2 L257.3 172 L257.1 171.7 L257 171.3 L257.1 170.9 L257.3 170.6 L257.6 170.4 L258 170.3 L258.4 170.4 L258.7 170.6 L258.9 170.9Z"/>
<path fill="#ffffff" d="M290.6 213 L290.5 213.3 L290.3 213.6 L289.9 213.7 L289.5 213.8 L289.1 213.7 L288.7 213.6 L288.5 213.3 L288.4 213 L288.5 212.7 L288.7 212.4 L289.1 212.3 L289.5 212.2 L289.9 212.3 L290.3 212.4 L290.5 212.7Z"/>
<path fill="#ffffff" d="M298.8 216.3 L298.7 216.6 L298.6 216.9 L298.3 217 L298 217.1 L297.7 217 L297.4 216.9 L297.3 216.6 L297.2 216.3 L297.3 216 L297.4 215.7 L297.7 215.6 L298 215.5 L298.3 215.6 L298.6 215.7 L298.7 216Z"/>
<path fill="#ffffff" d="M306.3 222.5 L306.2 222.8 L306.1 223.1 L305.8 223.2 L305.5 223.3 L305.2 223.2 L304.9 223.1 L304.8 222.8 L304.7 222.5 L304.8 222.2 L304.9 221.9 L305.2 221.8 L305.5 221.7 L305.8 221.8 L306.1 221.9 L306.2 222.2Z"/>
<path fill="#ffffff" d="M313.8 226 L313.7 226.3 L313.6 226.6 L313.3 226.7 L313 226.8 L312.7 226.7 L312.4 226.6 L312.3 226.3 L312.2 226 L312.3 225.7 L312.4 225.4 L312.7 225.3 L313 225.2 L313.3 225.3 L313.6 225.4 L313.7 225.7Z"/>
<path fill="#ffffff" d="M379.2 190 L379.1 190.3 L378.8 190.6 L378.5 190.7 L378 190.8 L377.5 190.7 L377.2 190.6 L376.9 190.3 L376.8 190 L376.9 189.7 L377.2 189.4 L377.5 189.3 L378 189.2 L378.5 189.3 L378.8 189.4 L379.1 189.7Z"/>
<path fill="#ffffff" d="M203 421 L206 423 L209 428 L211.5 433 L212 437 L209.5 437 L208 432 L205 427 L202.5 423Z"/>
<path fill="#ffffff" d="M310.4 196.2 L310.3 197.7 L309.9 198.9 L309.3 199.7 L308.6 200 L307.9 199.7 L307.3 198.9 L306.9 197.7 L306.8 196.2 L306.9 194.7 L307.3 193.5 L307.9 192.7 L308.6 192.4 L309.3 192.7 L309.9 193.5 L310.3 194.7Z"/>
<path fill="#ffffff" d="M374.6 809.2 L372.7 810.5 L369.7 810.6 L366.1 809.6 L362.4 807.5 L359.2 804.8 L356.9 801.8 L355.9 799 L356.4 796.8 L358.3 795.5 L361.3 795.4 L364.9 796.4 L368.6 798.5 L371.8 801.2 L374.1 804.2 L375.1 807Z"/>
<path fill="#ffffff" d="M349.7 790.2 L349.2 790.7 L348.3 790.9 L347.1 790.9 L345.8 790.5 L344.6 789.8 L343.7 789 L343.3 788.2 L343.3 787.4 L343.8 786.9 L344.7 786.7 L345.9 786.7 L347.2 787.1 L348.4 787.8 L349.3 788.6 L349.7 789.4Z"/>
<path fill="#ffffff" d="M236.2 720.7 L235.6 721.2 L234.4 721.3 L232.8 721 L231 720.5 L229.2 719.7 L227.8 718.9 L227 718 L226.8 717.3 L227.4 716.8 L228.6 716.7 L230.2 717 L232 717.5 L233.8 718.3 L235.2 719.1 L236 720Z"/>
<path fill="#ffffff" d="M297.5 730 L297.2 730.6 L296.5 731.1 L295.3 731.4 L294 731.5 L292.7 731.4 L291.5 731.1 L290.8 730.6 L290.5 730 L290.8 729.4 L291.5 728.9 L292.7 728.6 L294 728.5 L295.3 728.6 L296.5 728.9 L297.2 729.4Z"/>
<path fill="#ffffff" d="M215 699.3 L214.7 699.8 L214 700.2 L212.8 700.5 L211.5 700.6 L210.2 700.5 L209 700.2 L208.3 699.8 L208 699.3 L208.3 698.8 L209 698.4 L210.2 698.1 L211.5 698 L212.8 698.1 L214 698.4 L214.7 698.8Z"/>
<path fill="#ffffff" d="M158.8 678 L158.6 678.8 L158 679.4 L157.1 679.8 L156 680 L154.9 679.8 L154 679.4 L153.4 678.8 L153.2 678 L153.4 677.2 L154 676.6 L154.9 676.2 L156 676 L157.1 676.2 L158 676.6 L158.6 677.2Z"/>
<path fill="#ffffff" d="M156 383.5 L155.7 384.3 L155 384.9 L153.8 385.3 L152.5 385.5 L151.2 385.3 L150 384.9 L149.3 384.3 L149 383.5 L149.3 382.7 L150 382.1 L151.2 381.7 L152.5 381.5 L153.8 381.7 L155 382.1 L155.7 382.7Z"/>
<path fill="#ffffff" d="M219 372 L218.8 372.4 L218.1 372.8 L217.1 373 L216 373.1 L214.9 373 L213.9 372.8 L213.2 372.4 L213 372 L213.2 371.6 L213.9 371.2 L214.9 371 L216 370.9 L217.1 371 L218.1 371.2 L218.8 371.6Z"/>
<path fill="#ffffff" d="M370.2 335 L370 335.5 L369.3 335.9 L368.2 336.2 L367 336.3 L365.8 336.2 L364.7 335.9 L364 335.5 L363.8 335 L364 334.5 L364.7 334.1 L365.8 333.8 L367 333.7 L368.2 333.8 L369.3 334.1 L370 334.5Z"/>
<path fill="#ffffff" d="M378 443 L377.8 443.6 L377.4 444.1 L376.8 444.5 L376 444.6 L375.2 444.5 L374.6 444.1 L374.2 443.6 L374 443 L374.2 442.4 L374.6 441.9 L375.2 441.5 L376 441.4 L376.8 441.5 L377.4 441.9 L377.8 442.4Z"/>
<path fill="#ffffff" d="M629.3 203.5 L629.2 204 L628.8 204.3 L628.2 204.6 L627.5 204.7 L626.8 204.6 L626.2 204.3 L625.8 204 L625.7 203.5 L625.8 203 L626.2 202.7 L626.8 202.4 L627.5 202.3 L628.2 202.4 L628.8 202.7 L629.2 203Z"/>
<path fill="#ffffff" d="M611.3 226 L611.2 226.5 L610.9 226.8 L610.5 227.1 L610 227.2 L609.5 227.1 L609.1 226.8 L608.8 226.5 L608.7 226 L608.8 225.5 L609.1 225.2 L609.5 224.9 L610 224.8 L610.5 224.9 L610.9 225.2 L611.2 225.5Z"/>
<path fill="#ffffff" d="M545 210.5 L544.8 210.8 L544.3 211.1 L543.5 211.3 L542.5 211.4 L541.5 211.3 L540.7 211.1 L540.2 210.8 L540 210.5 L540.2 210.2 L540.7 209.9 L541.5 209.7 L542.5 209.6 L543.5 209.7 L544.3 209.9 L544.8 210.2Z"/>
<path fill="none" stroke="#ffffff" stroke-width="1.1" stroke-linejoin="round" stroke-linecap="round" d="M539 193 L548 189 L557 185 L566 178 L575 172 L583 167 L590 163.5"/>
<path fill="none" stroke="#ffffff" stroke-width="1.1" stroke-linejoin="round" stroke-linecap="round" d="M526.5 163.8 L534 166 L545 167.5 L558 168 L572 166 L585 164 L592 162.5"/>
<path fill="none" stroke="#ffffff" stroke-width="1.1" stroke-linejoin="round" stroke-linecap="round" d="M591.5 177.5 L589.5 186 L588 195 L586 202 L584.5 206"/>
<path fill="none" stroke="#ffffff" stroke-width="1.1" stroke-linejoin="round" stroke-linecap="round" d="M234 185.5 L237 186.5 L239.5 188"/>
<path fill="none" stroke="#ffffff" stroke-width="1.1" stroke-linejoin="round" stroke-linecap="round" d="M254.5 197.5 L256 203 L257.5 208 L258.5 212"/>
<path fill="none" stroke="#ffffff" stroke-width="1.1" stroke-linejoin="round" stroke-linecap="round" d="M312 326 L314 333 L317 340 L318.5 346"/>
<path fill="none" stroke="#ffffff" stroke-width="1.1" stroke-linejoin="round" stroke-linecap="round" d="M323 367.5 L328 368 L333 370 L337 372.5"/>
<path fill="none" stroke="#ffffff" stroke-width="1.1" stroke-linejoin="round" stroke-linecap="round" d="M491.5 333 L497 335 L502 335.5 L509 337"/>
<path fill="none" stroke="#ffffff" stroke-width="1.1" stroke-linejoin="round" stroke-linecap="round" d="M471.5 322.5 L474.5 325.5"/>
<path fill="none" stroke="#ffffff" stroke-width="1.1" stroke-linejoin="round" stroke-linecap="round" d="M389 379 L394 376.5"/>
<path fill="none" stroke="#ffffff" stroke-width="1.1" stroke-linejoin="round" stroke-linecap="round" d="M406.5 373 L413.5 375.5"/>
<path fill="none" stroke="#ffffff" stroke-width="1.1" stroke-linejoin="round" stroke-linecap="round" d="M418 383 L421 386.5 L425 389.5"/>
<path fill="none" stroke="#ffffff" stroke-width="1.1" stroke-linejoin="round" stroke-linecap="round" d="M438 381.5 L444 382.3"/>
<path fill="none" stroke="#ffffff" stroke-width="1.1" stroke-linejoin="round" stroke-linecap="round" d="M456.5 392.5 L463.5 394.5"/>
<path fill="none" stroke="#ffffff" stroke-width="1.1" stroke-linejoin="round" stroke-linecap="round" d="M344 401.5 L345.2 405"/>
<path fill="none" stroke="#ffffff" stroke-width="1.1" stroke-linejoin="round" stroke-linecap="round" d="M348.3 394.5 L350.3 391.5"/>
<path fill="none" stroke="#ffffff" stroke-width="1.1" stroke-linejoin="round" stroke-linecap="round" d="M517 218 L519 224"/>
<path fill="none" stroke="#ffffff" stroke-width="1.1" stroke-linejoin="round" stroke-linecap="round" d="M521 217 L523.5 225"/>
<path fill="none" stroke="#ffffff" stroke-width="1.1" stroke-linejoin="round" stroke-linecap="round" d="M526 218 L527 224"/>
<path fill="none" stroke="#ffffff" stroke-width="1.1" stroke-linejoin="round" stroke-linecap="round" d="M530 217.5 L532 223"/>
<path fill="none" stroke="#ffffff" stroke-width="1.1" stroke-linejoin="round" stroke-linecap="round" d="M224 716 L232 719.5 L239 722.5"/>
<path fill="none" stroke="#ffffff" stroke-width="1.1" stroke-linejoin="round" stroke-linecap="round" d="M431 481 L435 484"/>
<path fill="none" stroke="#ffffff" stroke-width="1.1" stroke-linejoin="round" stroke-linecap="round" d="M440 491 L441.5 496 L443 499.5"/>
<path fill="none" stroke="#ffffff" stroke-width="1.0" stroke-linejoin="round" stroke-linecap="round" d="M459.7 544.1 L455 550 L450.8 554.3 L444 557.5 L438.1 559.3 L427.9 560.6"/>
<path fill="none" stroke="#f4f4f4" stroke-width="0.9" stroke-linejoin="round" stroke-linecap="round" d="M735 205.2 L740 201.6 L747.5 197.8 L755.2 192.7 L760.2 188.9 L765.3 186.4 L772.9 186.4 L780.6 183.9 L788.2 182 L795.8 180 L803.4 177.5 L808.5 175 L813.6 172.4 L821.2 171.2 L823.7 168.6 L828.8 166.7 L833.9 164.8 L839 164.2"/>
<path fill="none" stroke="#ffffff" stroke-width="1.6" stroke-linejoin="round" stroke-linecap="round" d="M313 721.2 L323 723.6 L333 721.2 L348 718.7 L363 717.5 L378 719.9 L388 723.6 L393 726.8"/>
<path fill="none" stroke="#ffffff" stroke-width="1.0" stroke-linejoin="round" stroke-linecap="round" d="M343 714.5 L350 713.2 L358.5 712.8"/>
<path fill="#ffffff" d="M329.1 671.3 L329 672.2 L328.7 672.9 L328.3 673.4 L327.8 673.6 L327.3 673.4 L326.9 672.9 L326.6 672.2 L326.5 671.3 L326.6 670.4 L326.9 669.7 L327.3 669.2 L327.8 669 L328.3 669.2 L328.7 669.7 L329 670.4Z"/>
<path fill="#ffffff" d="M338 636 L337.4 636.9 L336.7 637.5 L336.1 637.9 L335.6 637.9 L335.3 637.5 L335.2 636.7 L335.4 635.8 L335.8 634.8 L336.4 633.9 L337.1 633.3 L337.7 632.9 L338.2 632.9 L338.5 633.3 L338.6 634.1 L338.4 635Z"/>
<path fill="#ffffff" d="M325.9 654.4 L325.8 654.8 L325.5 655.1 L325 655.3 L324.4 655.4 L323.8 655.3 L323.3 655.1 L323 654.8 L322.9 654.4 L323 654 L323.3 653.7 L323.8 653.5 L324.4 653.4 L325 653.5 L325.5 653.7 L325.8 654Z"/>
<path fill="#ffffff" d="M319.3 694.7 L319.2 695.4 L319.1 696 L318.8 696.4 L318.5 696.5 L318.2 696.4 L317.9 696 L317.8 695.4 L317.7 694.7 L317.8 694 L317.9 693.4 L318.2 693 L318.5 692.9 L318.8 693 L319.1 693.4 L319.2 694Z"/>
<path fill="none" stroke="#f0f0f0" stroke-width="0.9" stroke-linejoin="round" stroke-linecap="round" d="M413 474 L415.5 481 L416 488 L415 495 L418 501 L422 509 L426 516 L431 522 L433.5 528 L437 534 L441 540"/>
<path fill="none" stroke="#ffffff" stroke-width="1.0" stroke-linejoin="round" stroke-linecap="round" d="M140.6 511 L142.7 500.6 L149.3 491.9 L158 485.3 L168.8 481 L179.6 476.7 L190.3 470.3 L199 466 L205.4 464.3 L213 463"/>
<path fill="none" stroke="#f6f6f6" stroke-width="2.2" stroke-linejoin="round" stroke-linecap="round" d="M541 279 L535 284 L531 291 L531 298 L534 306 L535 313 L535 320 L538 326 L541 331"/>
<path fill="none" stroke="#f6f6f6" stroke-width="2.2" stroke-linejoin="round" stroke-linecap="round" d="M544 281 L539 287 L538 294 L542 300 L547 304 L548 311 L547.5 318 L545 323"/>
<path fill="none" stroke="#f6f6f6" stroke-width="3.2" stroke-linejoin="round" stroke-linecap="round" d="M516.5 298 L521 301 L527 304 L533 306"/>
<path fill="none" stroke="#50ffb0" stroke-width="1.3" stroke-linejoin="round" stroke-linecap="round" d="M517.5 298.8 L521 301 L527 304 L533 306"/>
<path fill="#a8ff50" d="M535.5 312 L547.5 312 L547.5 318 L545 322 L550 326 L553 330 L552.5 335.5 L546 336 L543 331 L540 325 L536 319Z"/>
<path fill="#80ff80" d="M535 305 L545 305 L547 311 L544 313.5 L536 313.5Z"/>
<path fill="#50ffb0" d="M541.5 279.5 L543 281 L538 286 L536 292 L538 298 L542 302 L546 306 L546 311 L540 311 L535 307.5 L532 300 L531.5 292 L534 285.5Z"/>
<path fill="#fff000" d="M550.5 281 L553 282.5 L556 285 L561 285.5 L562.5 288 L561.5 291.5 L556.5 291.5 L553 288 L551 285Z"/>
<path fill="#a8ff50" d="M558.7 290.5 L564.2 290.5 L564.8 294 L563 298.7 L559.4 298.7Z"/>
<path fill="#a8ff50" d="M541.3 325 L547 325 L551.9 331 L552 339.6 L547 340 L543 333Z"/>
<path fill="#d8ff28" d="M533 349 L540 347 L546 348 L549.5 352 L550.3 358 L546 361 L540 363.7 L535 365.5 L532 362 L535 357Z"/>
<path fill="#fff000" d="M527.8 344 L532 342.6 L540 342.5 L545.4 343.5 L545 347.3 L538 347.8 L531 347.5 L528 346.5Z"/>
<path fill="#ffc800" d="M534.3 354 L538 352.5 L541.3 353.5 L540 357.2 L536 357.5Z"/>
<path fill="#800000" d="M531.1 332 L534.9 332 L534.9 340.2 L531.1 340.2Z"/>
<path fill="#ffc800" d="M580.5 255 L589.5 250 L599.3 247.8 L601 247.6 L601 252 L594.4 253.6 L584 256.3Z"/>
<path fill="#fff000" d="M600 247.8 L609.1 246.4 L616 245.6 L616 249 L612 249.7 L604.2 251.6 L600 252.5Z"/>
<path fill="#a8ff50" d="M615 245.7 L618.8 245.3 L626 244.3 L626 248.2 L618.8 248.8 L615 249.2Z"/>
<path fill="#fff000" d="M641 242.5 L648 241.5 L654 240.8 L654.5 243.5 L650 245 L643 245.5Z"/>
<path fill="#800000" d="M443.2 511.1 L450.8 509.8 L459.7 511.1 L464.7 516.2 L464.7 528.9 L462.2 536.5 L453.3 536.5 L444.4 533.9 L434.3 528.9 L433 522.5 L435.5 518.7 L441.9 516.2Z"/>
<path fill="#800000" d="M445 478.1 L448.2 478.1 L453.3 488.2 L458.4 497.1 L462.2 506 L463.5 511.1 L458.4 511.1 L454.6 503.5 L450.8 494.6 L447 487 L444.4 480.6Z"/>
<path fill="#e00000" d="M440 535 L450 536 L458 536 L459 541 L455 545.5 L448 546 L442 543Z"/>
<path fill="#ff4600" d="M758 170.5 L765 169.5 L774 170.3 L770 172 L762 172.5Z"/>
<path fill="#d8ff28" d="M617.5 803 L622 801.5 L625 806 L626 813.5 L619 813 L617 808Z"/>
<path fill="#a8ff50" d="M622 801.2 L628 799.5 L630 806 L630 813.5 L625.5 813.5 L623 806Z"/>
<path fill="#80ff80" d="M628 799 L633 796 L635 805 L634 811 L630 812 L629.5 805Z"/>
<path fill="#50ffb0" d="M633 796 L641 793 L648.5 790 L649.5 800 L647 808 L640 809.5 L634.5 810.5Z"/>
<path fill="#d8ff28" d="M623.4 823.1 L625.3 826.2 L630 832.5 L633.9 838.8 L633.1 845 L628.4 849.7 L622.2 850.5 L619 845 L615.2 837.2 L616.7 832.5 L621.4 826.2Z"/>
<path fill="#d8ff28" d="M622.5 813.5 L625.5 813.5 L625 823.5 L622.8 823.5Z"/>
<path fill="#d8ff28" d="M789 821 L797 820.6 L797 833.5 L793 831 L790 826Z"/>
<path fill="#a8ff50" d="M797 820.6 L805 820.6 L805 834 L797 833.5Z"/>
<path fill="#80ff80" d="M805 820.6 L813 820 L813 832.5 L805 834Z"/>
<path fill="#0096ff" d="M812.9 832.2 L816.5 832 L817.2 837.2 L813.5 836.5Z"/>
<path fill="#d3d3d3" d="M812.9 818.5 L818 817.5 L823.2 818 L823.5 822 L822 828 L820 831.7 L815 831.5 L813.5 826Z"/>
<path fill="#80ff80" d="M409.7 600 L414 595.5 L425 595 L427 598 L427 604.5 L420 604 L412 602.5Z"/>
<path fill="#50ffb0" d="M425.9 595.6 L433 596 L434.4 598.5 L430 599.9 L427 599Z"/>
<path fill="none" stroke="#f4f4f4" stroke-width="0.9" stroke-linejoin="round" stroke-linecap="round" d="M440 586.2 L450 586.9 L458 588.4 L466 591.2 L475 595.3 L484 598.2 L492 600.5 L500 602.8 L507 606.5 L514 611.5"/>
<path fill="#fff000" d="M439.3 554.5 L438.8 556.3 L437.5 557.9 L435.4 558.9 L433 559.3 L430.6 558.9 L428.5 557.9 L427.2 556.3 L426.7 554.5 L427.2 552.7 L428.5 551.1 L430.6 550.1 L433 549.7 L435.4 550.1 L437.5 551.1 L438.8 552.7Z"/>
<path fill="#a8ff50" d="M206.7 464.5 L230 463.5 L254 466 L254 472 L230 471.5 L207 470.5Z"/>
<path fill="#ff4600" d="M252 455 L257 455 L266 463 L265 467 L258 466 L253 460Z"/>
<path fill="#fff000" d="M225 459 L239 458 L240 464 L226 465Z"/>
<path fill="#fff000" d="M262 455 L271 454 L279 456 L280 462 L270 465 L263 462Z"/>
<path fill="#ff9c00" d="M279 460 L286 460 L287 466 L280 467Z"/>
<path fill="#a8ff50" d="M272 452.5 L283 452 L283 456.5 L272 457Z"/>
<path fill="none" stroke="#f2f2f2" stroke-width="1.2" stroke-linejoin="round" stroke-linecap="round" d="M541 279.6 L537 282 L533 286.5 L531.8 293 L533.5 300 L535 304"/>
<path fill="none" stroke="#f2f2f2" stroke-width="1.0" stroke-linejoin="round" stroke-linecap="round" d="M516.5 299.5 L520 301.5 L525 304 L530 306.5 L534.5 309"/>
<path fill="none" stroke="#f2f2f2" stroke-width="0.9" stroke-linejoin="round" stroke-linecap="round" d="M521 310 L527 313.5 L533 317"/>
<path fill="none" stroke="#f2f2f2" stroke-width="0.9" stroke-linejoin="round" stroke-linecap="round" d="M524 317.5 L529 320.5 L534 323"/>
<path fill="none" stroke="#f2f2f2" stroke-width="0.9" stroke-linejoin="round" stroke-linecap="round" d="M526 326.5 L531 328.5"/>
<path fill="none" stroke="#d8b0b0" stroke-width="0.7" stroke-linejoin="round" stroke-linecap="round" d="M446 514.5 L451.5 511.3 L455 512.8 L452.6 520.3 L446 514.5"/>
<path fill="#800000" d="M529.7 331.6h1.5v1.8h-1.5zM525.1 342.1h1.6v1.6h-1.6zM525.1 355.2h1.9v1.5h-1.9zM520.3 357.9h1.6v1.1h-1.6zM446.2 412.1h1.6v1.6h-1.6zM501.7 374.2h1.3v1.6h-1.3zM512.3 376.7h1v1.8h-1zM504.6 378.7h1.1v1.6h-1.1zM529.5 330.1h1.3v1.9h-1.3zM516.6 367.7h1.6v1.8h-1.6zM528.1 343.8h1.1v1h-1.1zM438.1 429.3h1.7v1.3h-1.7zM471.8 394.8h1.1v1.2h-1.1zM530.6 362.4h1.4v1.1h-1.4zM431.2 443h1.5v1.4h-1.5zM528.8 363.4h1.5v1.5h-1.5zM525.4 346h1.7v1.1h-1.7zM520.9 365.4h1.5v1.8h-1.5zM447.5 411.6h1.2v1.1h-1.2zM501.5 376.8h1.1v1.3h-1.1zM484.8 384h1.4v1.5h-1.4zM460.4 403.6h1.1v1.5h-1.1zM527 346.7h1.8v1.3h-1.8zM448.2 413.4h1.9v1.7h-1.9zM445.4 418.8h1.6v1.6h-1.6zM496.4 375.8h1.3v1.2h-1.3zM442 422.5h1.7v1.5h-1.7zM501.6 372.2h1v1.2h-1zM499.6 375.6h1.6v1.8h-1.6zM520.1 359.6h1.2v1.5h-1.2zM525.9 366.6h1.9v1.6h-1.9zM509.2 370.2h1.2v1.6h-1.2zM509.1 366.6h1.8v1.9h-1.8zM524.8 365.4h1.5v1.8h-1.5zM503.3 373.6h1.9v1.6h-1.9zM468.7 398.8h1.5v1.1h-1.5zM511 364.6h1.7v1.7h-1.7zM524.7 363.5h1.2v1.5h-1.2zM531.1 366.1h1.1v1.9h-1.1zM458.9 402h1.1v1.1h-1.1zM452.3 415.4h1.5v1.4h-1.5zM434.4 427.6h1.2v1.3h-1.2zM506.5 378.7h1.4v1.6h-1.4zM442.8 427.9h1.3v1.8h-1.3zM514 367.4h1v1.9h-1zM489.8 379.5h1.8v1.2h-1.8zM460.9 409.4h1.2v1.3h-1.2zM528.6 364.9h1.3v1.1h-1.3zM463.8 400h1.2v1.6h-1.2zM456.8 407.5h1.5v1.3h-1.5zM534.9 369.2h1.6v1.8h-1.6zM478.1 391.9h1.2v1.5h-1.2zM527.2 353.3h1.8v1.3h-1.8zM528.3 346.7h1.3v1.4h-1.3zM459.8 406h1.5v1h-1.5zM501.1 372.4h1.8v1.4h-1.8zM475.2 398.9h1.4v1h-1.4zM520.7 356.7h1.2v1.5h-1.2zM528.6 348.1h1.4v1.3h-1.4zM432.4 433h1.8v1.2h-1.8zM478.7 391.4h1.8v1.8h-1.8zM518.2 361.8h1.9v1.7h-1.9zM501.2 373.3h1.6v1.4h-1.6zM431.3 439.8h1.3v1.4h-1.3zM489.1 380.5h1.4v1.2h-1.4zM510.9 367.3h1.2v1.3h-1.2zM438.5 420h1.7v1.3h-1.7zM454.9 411h1.5v1.1h-1.5zM521.5 352.4h1.3v1.7h-1.3zM436.4 424.9h1.7v1.9h-1.7zM514.4 372.2h1.6v1.2h-1.6zM491.9 381.1h1.2v1.7h-1.2zM437.1 434h1.8v1.2h-1.8zM494.4 384.7h1.8v1.4h-1.8zM529.1 345.3h1.3v1.5h-1.3zM439.4 423.6h1.5v1.2h-1.5zM450.1 408.1h1.8v1.4h-1.8zM508.3 368.2h1.4v1.6h-1.4zM490.9 386.6h1.6v1.5h-1.6zM464.3 398.7h1.4v1.8h-1.4zM467.4 396.9h1.8v1.2h-1.8zM528.1 355.9h1.4v1.3h-1.4zM495.2 379.8h1.6v1.1h-1.6zM452.4 415.3h1.9v1.7h-1.9zM524.7 364.2h1.5v1.8h-1.5zM523.8 366.3h1.3v1h-1.3zM528.5 344.5h1.3v1.5h-1.3zM494.2 383.6h1.3v1.4h-1.3zM469.9 399.3h1.8v1.1h-1.8zM467.9 395.3h1.6v1.9h-1.6zM522.3 357.5h1.4v1.9h-1.4zM462.6 402.1h1.4v1.8h-1.4zM439.8 416.7h1.1v1.4h-1.1zM480.7 392.6h1.6v1.9h-1.6zM430.7 442.8h1.3v1.6h-1.3zM532.6 354.9h1.4v1.8h-1.4zM481.5 387.4h1.5v1.4h-1.5zM519.7 353.3h1.8v1.1h-1.8zM465.4 397.3h1.4v1.4h-1.4zM524.4 361.8h1.4v1.6h-1.4zM478.3 391.4h1.6v1.9h-1.6zM528.8 368.8h1.4v1.5h-1.4zM523 356.7h1.4v1.1h-1.4zM530.8 355.4h1.6v1.5h-1.6zM460.6 400.6h1.2v1.9h-1.2zM482.8 390.5h1.2v1.6h-1.2zM480.4 396.5h1.5v1.6h-1.5zM496 383.9h1.3v1.1h-1.3zM450.5 417.8h1.6v1.7h-1.6zM506.3 372.5h1.7v1.4h-1.7zM507.6 379h1.1v1.2h-1.1zM469.6 403.3h1.8v1.4h-1.8zM529.7 337.8h1.3v1h-1.3zM527 357.2h1.9v1.6h-1.9zM454.3 402.6h1.7v1.4h-1.7zM431.1 439.5h1.5v1.2h-1.5zM526.2 350.6h1.8v1.6h-1.8zM432.9 442.4h1.2v1.4h-1.2zM527.2 335.6h1.1v1.4h-1.1zM487.6 390.4h1.1v1.4h-1.1zM494.9 383.6h1.7v1.5h-1.7zM476.4 396.6h1.7v1.8h-1.7zM523.4 343.2h1.6v1.6h-1.6zM454.2 414.6h1.3v1.6h-1.3zM486.2 386.9h1.9v1.7h-1.9zM491.5 383h1v1h-1zM474.5 391.4h1.9v1.8h-1.9zM478.6 396.4h1.3v1.8h-1.3zM431.9 435h1.5v1.7h-1.5zM434.5 436.6h1.5v1.6h-1.5zM521.1 347.4h1.7v1.5h-1.7zM525.7 348.1h1.4v1.5h-1.4zM439.6 429.9h1.3v1.3h-1.3zM454.7 403h1.5v1.8h-1.5zM504 378h1.1v1h-1.1zM522.5 356.3h1.8v1.9h-1.8zM518.4 360.3h1.4v1.1h-1.4zM522.6 366.2h1.5v1.1h-1.5zM533.2 367.7h1.7v1.3h-1.7zM438.3 422.1h1.2v1.4h-1.2zM457.8 403.8h1.1v1.3h-1.1zM493.6 386.2h1.3v1.7h-1.3zM503 372.5h1.8v1.9h-1.8zM466.9 396.8h1.2v1.5h-1.2zM439.8 421.2h1.6v1.7h-1.6zM516 361h1.1v1.6h-1.1zM458.5 402.3h1.7v1.8h-1.7zM470.5 399.2h1.2v1.4h-1.2zM506 372.9h1.2v1.1h-1.2zM444.1 412h1.2v1.7h-1.2zM523.8 348.3h1.4v1.2h-1.4zM492.7 378.7h1.5v1.5h-1.5zM512 371h1.5v1.4h-1.5zM503.4 382.6h1.1v1.2h-1.1zM484.9 384.8h1.4v1.8h-1.4zM523.7 343.8h1.2v1.1h-1.2zM437.8 438.8h1.3v1h-1.3zM440.5 421.2h1.3v1.2h-1.3zM527.1 342.9h1.3v1.2h-1.3zM438.8 443.8h1.7v1.2h-1.7zM529.8 366.7h1.1v1.7h-1.1zM528.7 349.2h1.8v1.6h-1.8zM437.8 432.5h1.7v1.3h-1.7zM451.2 410.5h1.1v1.5h-1.1zM440.4 430.8h1.5v1h-1.5zM509 377.6h1.6v1.2h-1.6zM481.4 393.3h1.2v1.4h-1.2zM508.2 378.7h1.5v1.4h-1.5zM530.8 357h1.6v1.7h-1.6zM518.1 353.7h1.2v1.3h-1.2zM446.6 414.8h1.6v1.6h-1.6zM433.9 441.6h1.3v1.7h-1.3zM457.7 401.9h1.4v1.5h-1.4zM470 397.3h1.6v1.8h-1.6zM526.4 366.7h1.7v1.3h-1.7zM524.9 343.7h1.4v1.1h-1.4zM473.1 399.4h1.5v1.6h-1.5zM505.4 379h1.1v1.6h-1.1zM473.2 401.4h1.3v1.2h-1.3zM446.4 417.7h1.2v1.1h-1.2z"/>
<path fill="#b00000" d="M533.1 368.2h1.6v1.4h-1.6zM490.3 385.4h1.7v1.5h-1.7zM524.1 360.5h1.7v1.7h-1.7zM511.6 363.3h1.9v1.7h-1.9zM488.2 382h1.1v1.2h-1.1zM484.4 386.6h1.7v1.7h-1.7zM440.8 421h1.1v1.7h-1.1zM438 421.3h1.5v1.8h-1.5zM525.7 343.4h1.6v1.8h-1.6zM435.8 426.4h1v1.7h-1zM495.2 377.9h1.8v1.8h-1.8zM519.3 355.5h1.2v1.1h-1.2zM528.3 346h1.7v1.8h-1.7z"/>
<path fill="#ffc800" d="M502.2 380.5h1.6v1.8h-1.6zM468.3 404.9h1.7v1.1h-1.7zM458.5 408.8h1.5v1.1h-1.5zM444.4 417.6h1.4v1.8h-1.4zM534.2 369.6h1.5v1.3h-1.5zM527 346.8h1.7v1.2h-1.7zM435.8 435.4h1.8v1.4h-1.8z"/>
<path fill="#ff4600" d="M512.6 370.3h1.6v1.4h-1.6zM520.6 372.9h1.1v1.6h-1.1zM536.4 367.2h1.7v1.2h-1.7zM514 366.4h1.3v1.3h-1.3zM485 385.2h1.1v1.5h-1.1zM524.7 359h1v1.5h-1zM517.3 354.8h1.3v1.8h-1.3zM522.6 354h1.6v1.9h-1.6zM495.7 379h1.5v1h-1.5zM493.2 386.4h1.1v1.8h-1.1z"/>
<path fill="#800000" d="M454.9 487.4h1.1v1.8h-1.1zM439.2 441.2h1.1v1.5h-1.1zM455.5 488.1h1.7v1.6h-1.7zM444.1 466.5h1.8v1.5h-1.8zM453.3 485h1.5v1.8h-1.5zM438.9 456.2h1.1v1.8h-1.1zM445.3 472.6h1.3v1.2h-1.3zM447.5 477.1h1.3v1h-1.3zM450.2 485.1h1.8v1.6h-1.8zM437.1 442.8h1.1v1.1h-1.1zM446.9 471.2h1.6v1.2h-1.6zM443.3 466.3h1v1.4h-1zM439.3 445h1.2v1.2h-1.2zM443.5 465.6h1v1.4h-1zM443 464.3h1.5v1.1h-1.5zM442.6 463.2h1.4v1.1h-1.4zM448.4 478.9h1.4v1.3h-1.4zM451.6 486.6h1.3v1.2h-1.3zM436.8 454.8h1.6v1.6h-1.6zM443.6 466.2h1.5v1.9h-1.5zM445.3 475.8h1.8v1.4h-1.8zM449.6 486.8h1.4v1.9h-1.4zM449.6 484.2h1.7v1h-1.7zM451.9 478.4h1.7v1.5h-1.7zM435.6 440.2h1.8v1.6h-1.8zM439.8 465.1h1.1v1.7h-1.1zM442.4 463.2h1v1.5h-1zM440.7 451.6h1.2v1.2h-1.2zM442 455.9h1.4v1.1h-1.4zM453.6 486.1h1.6v1.8h-1.6zM439.2 449.5h1.3v1.3h-1.3zM449.1 487.4h1.7v1.8h-1.7zM447.6 473.5h1.4v1.2h-1.4zM436.8 441.4h1.3v1.8h-1.3zM443.6 467.1h1.8v1.4h-1.8zM438.5 452.5h1.2v1.3h-1.2zM439.4 452h1.3v1.3h-1.3zM442.6 463.7h1.3v1.8h-1.3zM447.1 469.4h1.9v1.9h-1.9zM443 466.2h1.1v1.9h-1.1zM448.9 485.8h1.3v1.7h-1.3zM444.5 467.9h1.5v1.1h-1.5zM448.9 483.8h1.4v1.1h-1.4zM436.6 445.4h1v1.2h-1zM437.6 445.3h1.6v1.2h-1.6zM442.3 454.9h1.4v1.4h-1.4zM451.5 480.6h1.4v1.3h-1.4zM450.8 489.3h1.6v1.6h-1.6zM450.9 481.2h1.5v1h-1.5zM438.3 445.4h1.5v1.2h-1.5zM440.4 450.4h1.6v1.2h-1.6zM443 460.8h1.4v1.6h-1.4zM438.7 456.7h1.4v1.5h-1.4zM440.9 455.9h1.7v1.3h-1.7zM443.6 461h1v1.5h-1zM436.9 447.5h1.3v1.1h-1.3zM451.5 485.8h1.3v1.9h-1.3zM449.4 483.7h1.6v1.5h-1.6zM439.1 450.7h1.6v1.1h-1.6zM442.6 463.7h1.2v1.2h-1.2zM445.2 466h1.5v1.6h-1.5zM436.8 447.1h1.5v1.6h-1.5zM451.6 484.8h1.9v1h-1.9zM445.8 470.5h1.4v1.7h-1.4zM437.6 442.2h1.9v1.7h-1.9zM439.1 449.5h1.4v1.5h-1.4zM443.3 463h1.9v1.5h-1.9zM443.7 463.2h1.2v1.2h-1.2zM450.4 487.6h1.6v1h-1.6zM446.5 474.3h1.6v1.3h-1.6zM447.1 471.2h1.9v1.9h-1.9zM442.6 470.8h1.6v1.3h-1.6zM442.9 472.3h1.8v1.6h-1.8zM441.9 470.3h1.2v1.8h-1.2zM436.1 440.9h1.4v1.6h-1.4zM437.6 455.2h1.5v1.7h-1.5zM445 468.7h1.8v1.9h-1.8zM438 452.1h1.6v1.2h-1.6zM442.9 463.6h1.2v1.2h-1.2zM449.3 486.2h1.6v1.7h-1.6zM436.9 450.5h1v1.1h-1zM438.3 442h1.7v1.1h-1.7zM447.9 480.2h1.8v1.1h-1.8zM436.6 445.2h1.5v1.8h-1.5zM455.3 487.6h1.3v1.9h-1.3zM449.8 483.1h1.1v1.7h-1.1zM452 484.9h1.8v1.1h-1.8zM446.5 478.9h1.3v1.1h-1.3zM443 472.8h1.3v1.8h-1.3zM438.9 453.4h1.8v1.1h-1.8zM447.6 475.5h1.3v1.5h-1.3zM439.2 462.8h1.1v1.2h-1.1zM441.5 459.7h1.7v1.2h-1.7zM437.8 447.6h1.3v1.4h-1.3zM449.1 481.7h1v1.7h-1z"/>
<path fill="#b00000" d="M441 459h1.5v1.5h-1.5zM436.7 444h1.6v1.9h-1.6zM443.4 474h1.5v1.7h-1.5zM448.4 478.1h1.2v1.6h-1.2zM448.8 479.4h1.1v1.1h-1.1zM444.6 466.9h1.1v1.7h-1.1zM442.6 466.5h1.7v1.6h-1.7zM442.3 471.1h1.8v1.6h-1.8zM447.5 472.9h1.6v1.3h-1.6zM443.2 465.3h1.7v1.6h-1.7z"/>
<path fill="#ff4600" d="M442 466h1.5v1.3h-1.5zM440.2 458.6h1.1v1.7h-1.1zM437.3 455.8h1.1v1.1h-1.1zM441.8 457h1.5v1.1h-1.5zM439 447h1.8v1.7h-1.8z"/>
<path fill="#800000" d="M415.8 487.1h1.5v1.5h-1.5zM417.9 508.7h1.7v1.5h-1.7zM414.1 495.9h1.5v1.5h-1.5zM415.7 490.1h1.2v1.3h-1.2zM412.5 499.9h1.6v1.6h-1.6zM414 500.7h1.3v1.3h-1.3zM417.9 510.1h1.2v1.7h-1.2zM406.4 474h1.6v1.1h-1.6zM405.9 469.6h1.2v1.7h-1.2zM420.5 514.8h1.1v1.3h-1.1zM410.1 489.1h1.4v1.8h-1.4zM409.9 476.6h1.5v1.3h-1.5zM410.3 474.6h1.7v1.2h-1.7zM402.4 469.8h1.9v1.8h-1.9zM413.1 486.2h1.6v1.4h-1.6zM419.6 511.3h1.3v1.4h-1.3zM410.3 489.2h1.5v1.9h-1.5zM403.2 467.9h1.8v1.5h-1.8zM409 476.9h1.9v1.3h-1.9zM407.4 476h1.4v1.3h-1.4zM414.8 501.1h1.8v1.7h-1.8zM423.2 518.1h1.7v1.9h-1.7zM428.1 521h1.8v1.3h-1.8zM401 467.7h1.3v1.3h-1.3zM418.3 506.2h1.3v1.4h-1.3zM411.7 497.5h1.2v1.6h-1.2zM420.9 514.8h1.7v1.9h-1.7zM417.4 504.3h1.3v1.2h-1.3zM401.5 469h1.7v1.2h-1.7zM424 515.4h1.5v1.1h-1.5zM411.9 474.4h1.5v1.2h-1.5zM429.2 524.3h1.5v1.5h-1.5zM419 509.6h1.7v1.6h-1.7zM415.2 496.2h1.2v1.5h-1.2zM406.2 466.7h1.8v1.3h-1.8zM399.5 466.7h1.1v1.4h-1.1zM411 496.5h1.2v1h-1.2zM408.5 478.1h1.7v1.6h-1.7zM412.5 476.7h1.4v1.2h-1.4zM419.2 508.5h1.4v1.1h-1.4zM404.2 466.8h1.1v1h-1.1zM410.1 493.6h1.5v1.7h-1.5zM429.6 524.3h1.7v1.4h-1.7zM404.5 467.9h1.3v1.5h-1.3zM413.1 484.4h1.7v1.3h-1.7zM411 472.2h1.4v1.5h-1.4zM403.8 464.9h1.7v1.4h-1.7zM413.1 483.9h1.5v1.1h-1.5zM408.9 477.9h1.4v1.2h-1.4zM407.8 472.7h1.6v1.8h-1.6zM412.5 495.8h1.2v1.6h-1.2zM412.3 484.8h1.7v1.4h-1.7zM415.1 480.1h1.8v1.1h-1.8zM411.7 480.2h1.2v1.9h-1.2zM405 466.8h1.7v1.8h-1.7zM426.8 519.3h1.9v1.5h-1.9zM407.8 470.3h1.1v1.3h-1.1zM407.3 475h1.9v1.4h-1.9zM411.1 482.6h1.5v1.9h-1.5zM410.8 475.8h1.8v1.4h-1.8zM410.7 481.4h1.4v1.3h-1.4zM408 474.1h1.5v1.1h-1.5zM411.6 495.4h1.6v1.6h-1.6zM400.3 462.2h1.4v1.8h-1.4zM416.3 499.5h1.2v1.4h-1.2zM416.6 502.5h1.7v1.8h-1.7zM405.1 465.6h1.3v1.2h-1.3zM411.9 475.6h1v1.4h-1zM412 487.3h1.2v1.2h-1.2zM413.5 498.9h1.6v1.2h-1.6zM411.8 497.2h1.6v1.4h-1.6zM405.1 467.8h1.5v1.3h-1.5zM421.8 510.1h1.4v1.5h-1.4zM403.9 468.3h1.8v1.8h-1.8zM416 487.8h1.2v1.3h-1.2zM422.6 511.1h1.4v1.9h-1.4zM417 500.3h1v1.2h-1zM417 505.7h1.1v1.1h-1.1zM409.9 474.6h1.2v1.7h-1.2zM419 505.3h1.5v1.4h-1.5z"/>
<path fill="#b00000" d="M412.9 489.7h1.8v1.3h-1.8zM401.2 468.2h1.2v1h-1.2zM420.5 511.9h1.3v1.5h-1.3zM420 506.2h1.7v1.2h-1.7zM414.7 496.7h1.9v1.5h-1.9zM412.7 500.1h1.2v1.4h-1.2zM414.7 497.2h1.4v1.4h-1.4z"/>
<path fill="#ff4600" d="M413.2 478.9h1.2v1.5h-1.2z"/>
<path fill="#ffc800" d="M405.1 472.1h1.7v1.4h-1.7zM411.7 491.7h1.6v1.2h-1.6z"/>
<path fill="#b00000" d="M362.7 453.5h1.7v1.7h-1.7zM382.2 452.1h1.5v1.8h-1.5zM368.6 459.9h1.8v1.3h-1.8zM387.3 452.5h1.7v1.4h-1.7zM380.8 453.9h1.7v1.1h-1.7zM397 452.2h1.7v1.6h-1.7zM364.4 456.4h1.3v1.6h-1.3zM373.8 459.3h1.8v1.8h-1.8z"/>
<path fill="#800000" d="M369 455.3h1.2v1.1h-1.2zM368.7 460.6h1.7v1.7h-1.7zM367.9 452.2h1.7v1.8h-1.7zM394.4 454.9h1.5v1.4h-1.5zM366.5 452.1h1v1h-1zM385.4 451.8h1.4v1.3h-1.4zM385.7 451.8h1.7v1.3h-1.7zM369.3 458.4h1.2v1.3h-1.2zM367.2 454.2h1.6v1.8h-1.6zM399.2 458.5h1.8v1.6h-1.8zM393.2 452h1.4v1.1h-1.4zM361.8 450.3h1.3v1.3h-1.3zM362.4 448.8h1.6v1.1h-1.6zM361.7 454.7h1.9v1.1h-1.9zM379.4 451.3h1v1.4h-1zM370.1 460.1h1.4v1h-1.4zM376.4 460.3h1.7v1.7h-1.7zM381.4 456.9h1.2v1.8h-1.2zM399.3 457.1h1.2v1.6h-1.2zM364.7 459h1.8v1.5h-1.8zM361.4 456.1h1.8v1.5h-1.8zM365.6 452.9h1.5v1h-1.5zM363.5 455.4h1.7v1.3h-1.7zM372.3 459.4h1.7v1.2h-1.7zM366.1 454.7h1.5v1.8h-1.5zM372.7 455.4h1.6v1.4h-1.6zM363.1 451.3h1.3v1.7h-1.3zM387.5 456.3h1.8v1.4h-1.8zM391.3 452.9h1.1v1.1h-1.1zM365.8 459h1.8v1.3h-1.8zM383.4 452.8h1.1v1.4h-1.1zM386.6 452.4h1v1h-1zM398.5 459.3h1.7v1.9h-1.7zM366.4 455.9h1.5v1.8h-1.5zM364.7 456.9h1.7v1.6h-1.7zM396.4 457.6h1.2v1.3h-1.2zM396.5 453.4h1.7v1.3h-1.7zM367.5 455.3h1.6v1.3h-1.6zM398.6 456.5h1.1v1.9h-1.1zM400.1 460.5h1.3v1.1h-1.3zM361.3 452.3h1.1v1.9h-1.1zM371.7 460.1h1.7v1.6h-1.7zM398.7 459.9h1.5v1.6h-1.5zM389.4 455.5h1.1v1.8h-1.1zM366.8 459.9h1.4v1.6h-1.4zM395 452.5h1.4v1h-1.4zM366.4 459.5h1.2v1.5h-1.2zM379.4 457.8h1.7v1.9h-1.7zM398 453.2h1.8v1.5h-1.8zM396.4 456.2h1.6v1.2h-1.6zM394.8 457h1.8v1.6h-1.8zM389 454.8h1.5v1.2h-1.5zM385.3 456.5h1.7v1h-1.7zM374.6 460.1h1.7v1.3h-1.7zM375.8 456.2h1.4v1.9h-1.4z"/>
<path fill="#ff4600" d="M398.8 458h1v1.3h-1zM369.5 454.6h1.1v1.1h-1.1zM393.7 452.1h1.4v1.5h-1.4zM369.7 452.1h1.1v1.7h-1.1zM387.6 455.4h1.2v1.5h-1.2z"/>
<path fill="#ffc800" d="M384.6 455.2h1.3v1.1h-1.3zM388.3 449.6h1.7v1.5h-1.7z"/>
<path fill="#ff9c00" d="M252.9 467.5h1.8v1.7h-1.8zM177.9 467.7h1v1.7h-1zM188.5 467.7h1.8v1h-1.8zM261.8 464.9h1.3v1.6h-1.3zM210.1 459h1.6v1.3h-1.6zM278.5 454.6h1.8v1.6h-1.8zM277.3 456.8h1.6v1.3h-1.6zM286.2 458.9h1v1.4h-1zM213.5 457.8h1.2v1.1h-1.2zM246.8 457.6h1.6v1.9h-1.6zM249.5 446.4h1.4v1h-1.4zM245.3 454.8h1.2v1.3h-1.2zM282.9 463.6h1.3v1h-1.3zM252 446.5h1.7v1.7h-1.7zM257.8 456.8h1.8v1.3h-1.8zM191 464.6h1.7v1h-1.7zM263.9 463.3h1.1v1.4h-1.1zM203.7 452.7h1.1v1.5h-1.1zM210.7 451.7h1.5v1.3h-1.5zM234.4 460.2h1.3v1.5h-1.3zM209.7 452.9h1.2v1.6h-1.2z"/>
<path fill="#800000" d="M205.8 460.9h1v1.2h-1zM252.2 447.2h1.8v1.2h-1.8zM286.7 452.9h1.1v1.1h-1.1zM259.7 454.2h1.7v1.4h-1.7zM220.8 462.1h1v1.2h-1zM292.8 454.4h1.5v1.7h-1.5zM243.1 453.3h1.2v1.1h-1.2zM225.7 450.8h1.7v1.4h-1.7zM225.5 447.8h1.9v1.9h-1.9zM253.4 459.5h1.1v1.2h-1.1zM272.8 471.6h1.7v1.7h-1.7zM293.2 464.4h1v1.5h-1zM255.9 469.3h1.6v1.7h-1.6zM239.8 460.5h1.8v1.8h-1.8zM230.1 464.5h1.6v1.6h-1.6zM222.5 463.2h1.2v1.8h-1.2zM209.8 456.5h1.7v1.3h-1.7zM186.9 461h1.5v1.9h-1.5zM192.8 462.7h1.9v1.9h-1.9zM245.7 463.3h1.6v1.8h-1.6zM222 457.2h1.3v1.9h-1.3zM289.2 462.7h1.9v1.4h-1.9zM272.7 470.3h1.5v1.2h-1.5zM291.9 468.8h1.2v1.1h-1.2zM250.5 467.5h1.7v1.3h-1.7zM241.7 454.1h1.5v1.4h-1.5zM248.9 444.2h1.4v1.8h-1.4zM286 461h1.7v1.4h-1.7zM279.5 465.9h1.3v1.7h-1.3zM234.8 461.1h1.3v1.1h-1.3zM251.3 456.7h1.6v1h-1.6zM214.3 462.8h1.8v1.3h-1.8zM182 466h1.6v1.5h-1.6zM239.6 447.4h1.3v1.7h-1.3zM260.1 450.4h1.9v1.6h-1.9zM253.1 454.7h1.3v1.6h-1.3zM218.6 455.7h1.7v1.6h-1.7zM246.7 467.4h1.1v1h-1.1zM286.2 463.4h1.4v1.1h-1.4zM210.9 450.8h1v1.8h-1zM261 465.2h1.9v1.1h-1.9zM220.5 453.3h1.3v1.7h-1.3zM264.7 448.4h1.6v1.8h-1.6zM272.4 456.5h1.5v1.9h-1.5zM239.9 454.6h1.1v1.8h-1.1zM225.9 453.1h1v1.9h-1zM197.4 459.8h1.5v1.1h-1.5zM242.5 459.1h1.3v1.6h-1.3zM271.6 470h1.1v1.1h-1.1zM228.6 462h1.1v1.6h-1.1zM210.8 455.3h1.4v1.3h-1.4zM266 466.1h1.7v1.3h-1.7zM259.5 452.4h1.7v1.5h-1.7zM251.5 450.6h1.3v1.3h-1.3zM278.4 467h1.5v1.2h-1.5zM232.6 457.3h1.7v1.8h-1.7zM279 459.2h1.2v1.1h-1.2zM239 462.4h1.4v1.3h-1.4zM261.6 465.1h1.7v1.3h-1.7zM249.2 465.4h1.3v1.1h-1.3zM243 456h1.4v1.2h-1.4zM288.8 463.2h1.1v1.6h-1.1zM244.2 466.6h1.8v1.2h-1.8zM254.1 468.3h1.1v1.5h-1.1zM266 456.8h1.5v1.8h-1.5zM245.3 462.9h1.2v1.5h-1.2zM280.1 458.7h1.2v1.1h-1.2zM200.8 455.4h1.6v1.7h-1.6zM242.9 455.4h1.5v1.3h-1.5zM270 466.8h1.1v1.4h-1.1zM289.8 455.6h1.4v1.6h-1.4zM273.6 462h1.3v1.8h-1.3zM239.9 444.7h1.2v1.6h-1.2zM270.7 454.9h1.2v1.4h-1.2zM222.9 460.1h1.2v1.9h-1.2zM230.3 458.6h1.3v1.9h-1.3zM260.9 459.8h1.4v1.7h-1.4zM193.5 468.8h1.9v1.9h-1.9zM202.1 456.9h1.4v1.3h-1.4zM258.3 447.1h1.4v1.1h-1.4zM198.1 457.2h1.7v1.3h-1.7zM188.9 464.2h1.3v1.4h-1.3zM205.1 461.8h1.5v1.7h-1.5zM237.6 444.3h1.3v1h-1.3zM218.9 459.3h1.2v1.4h-1.2zM295.9 451.7h1.7v1.7h-1.7zM181.5 467.4h1v1h-1zM183 465.6h1.1v1.4h-1.1zM255.4 470.8h1.7v1.2h-1.7zM252.7 464.5h1.1v1.4h-1.1zM260.9 457.8h1.8v1.1h-1.8zM208.5 459.3h1.8v1.5h-1.8zM271.2 454.1h1.6v1.8h-1.6zM265.5 451.6h1.3v1.1h-1.3zM183.1 466.7h1.8v1.1h-1.8zM287 459.7h1.4v1.2h-1.4zM293.2 458.4h1.7v1.1h-1.7zM241.1 447.6h1.8v1.4h-1.8zM246.7 459.5h1.7v1.2h-1.7zM250.6 447.4h1.6v1.7h-1.6zM195.4 466.1h1.5v1.2h-1.5zM270.5 454.1h1.6v1.4h-1.6zM279.7 465.3h1.7v1.5h-1.7zM271.4 470.6h1.5v1.4h-1.5zM247.7 467.5h1.4v1.3h-1.4zM266.9 455.3h1.7v1.4h-1.7zM234.6 460.2h1.7v1.7h-1.7zM261.2 450.2h1.4v1.4h-1.4zM264.2 457.6h1.3v1.2h-1.3zM260.2 468.4h1.5v1.8h-1.5zM250.7 455h1.3v1h-1.3zM193.6 457h1v1.5h-1zM250.2 468h1.7v1.4h-1.7zM289.8 463.1h1.2v1.4h-1.2zM202.5 465h1.1v1.7h-1.1zM259.7 447.1h1.1v1.6h-1.1zM289.5 464h1.5v1.4h-1.5zM230.4 448h1.4v1.1h-1.4zM259.3 451h1.1v1.3h-1.1zM291.4 452.6h1.3v1.9h-1.3zM201.1 465.5h1.1v1.8h-1.1zM228.3 447.3h1.8v1.3h-1.8zM220.7 462.9h1.2v1.4h-1.2zM268.4 467h1.3v1.2h-1.3zM231.8 452.5h1.7v1.6h-1.7zM205.5 459.5h1.5v1.8h-1.5zM272.3 453.1h1.6v1.1h-1.6zM237.4 452h1v1.2h-1zM202.6 458h1.1v1.2h-1.1zM298 453.3h1.1v1.1h-1.1zM272.8 451.4h1.2v1.1h-1.2zM196.9 466.8h1v1.3h-1zM244.6 455.6h1.3v1h-1.3zM207.5 458.1h1.1v1.2h-1.1zM268 462.5h1.4v1.3h-1.4zM273.8 452.7h1v1.5h-1zM212.8 450.5h1.6v1.5h-1.6zM233.2 461h1.7v1.3h-1.7zM250.7 464.6h1.3v1.4h-1.3zM250.1 464.3h1.4v1.5h-1.4zM237.3 452.7h1.2v1.1h-1.2zM261.9 463.6h1.2v1.3h-1.2zM286.9 457.6h1.4v1.4h-1.4zM238.1 464.9h1.6v1.3h-1.6zM263.7 466.2h1.6v1.6h-1.6zM182.6 467.9h1.4v1.5h-1.4zM265.3 468.3h1.8v1.4h-1.8zM272.1 464.5h1.7v1.8h-1.7zM275.4 470.3h1.4v1.8h-1.4zM296.3 459.3h1.6v1.5h-1.6zM181.1 474.7h1.4v1h-1.4zM234.6 453.8h1.3v1h-1.3zM292.7 454.7h1.3v1.6h-1.3zM234.8 446.9h1.2v1.1h-1.2zM180.5 472.5h1v1.2h-1zM267.2 469.8h1.3v1.4h-1.3zM244.3 453.1h1.4v1.5h-1.4zM272.2 451.1h1.1v1.2h-1.1zM217.2 450.7h1.4v1.2h-1.4zM281.5 458.9h1.1v1.8h-1.1zM292.1 464.9h1.4v1.8h-1.4zM249.2 449.9h1.1v1.5h-1.1zM288.6 465.5h1.3v1.3h-1.3zM239.5 455.3h1.4v1.9h-1.4zM228.5 449.4h1.1v1h-1.1zM218.6 456.6h1.7v1.4h-1.7zM212.8 463h1.4v1.6h-1.4zM291.3 463.5h1.7v1.6h-1.7zM199.2 456.8h1v1.6h-1zM216.1 451.4h1v1.6h-1zM251.2 466.4h1.7v1.3h-1.7zM252.3 467.3h1.2v1.3h-1.2zM188.6 462.2h1.9v1.6h-1.9zM237.1 456.9h1.3v1.7h-1.3zM243.4 462.4h1.1v1.1h-1.1zM266.4 454.5h1.7v1.7h-1.7zM270.5 455.8h1.7v1.2h-1.7zM258.5 466h1v1.5h-1zM229.4 462.1h1.2v1.5h-1.2zM277 453.8h1.7v1.6h-1.7zM217.4 455.9h1.6v1.1h-1.6zM218.2 451h1.9v1.2h-1.9zM200.3 463.8h1v1.3h-1zM207.2 459.3h1.5v1.6h-1.5zM214.6 462.2h1.7v1.5h-1.7z"/>
<path fill="#a8ff50" d="M284.1 452.5h1.5v1.6h-1.5zM193.6 465.7h1.1v1h-1.1zM211.9 458h1.8v1.9h-1.8zM226.9 453.5h1.4v1.3h-1.4zM255.7 457.2h1v1.1h-1zM260.5 459.4h1.9v1.1h-1.9zM177.3 470.3h1.5v1.1h-1.5zM247.8 444.6h1.3v1.6h-1.3zM242.2 445.8h1.5v1.4h-1.5zM209 461.2h1.4v1.2h-1.4zM246.9 447h1.5v1.7h-1.5zM273.8 462.4h1.2v1.7h-1.2zM202.5 463.1h1.5v1.1h-1.5z"/>
<path fill="#ff4600" d="M214.5 458.9h1.1v1.9h-1.1zM231.7 459.1h1.4v1.3h-1.4zM234.7 465.8h1.7v1.2h-1.7zM272.5 462.2h1.4v1.6h-1.4zM271.8 464h1v1.1h-1zM277.4 469.1h1v1.7h-1zM197.4 466.5h1.1v1.6h-1.1zM258.6 452.6h1.7v1.1h-1.7zM222.9 458.7h1.4v1.9h-1.4zM247.5 468.1h1.3v1.8h-1.3zM184 467.9h1.9v1.8h-1.9zM261 470.7h1.5v1.2h-1.5zM255.8 465.8h1.1v1.4h-1.1zM191.7 458.9h1v1.7h-1zM212.2 457.9h1.8v1.3h-1.8zM228.6 452.9h1.3v1.1h-1.3zM274.1 456.7h1.6v1.8h-1.6zM246.2 457.9h1.6v1.4h-1.6zM253.3 452.4h1v1.4h-1zM281.2 471.1h1.7v1.8h-1.7zM189.9 462.5h1.7v1.4h-1.7zM283.9 463.8h1.1v1.2h-1.1zM193.7 465h1.4v1.5h-1.4zM252.1 463.3h1.8v1.6h-1.8zM240.5 465.2h1.5v1.3h-1.5zM247.3 452.6h1v1.8h-1zM219.7 457.4h1.8v1.6h-1.8zM233.9 461.5h1.2v1.1h-1.2zM250.5 459.5h1.6v1.4h-1.6zM196.3 454.8h1.6v1.4h-1.6zM260.1 451.8h1.8v1.5h-1.8z"/>
<path fill="#fff000" d="M217.6 463.2h1.3v1.8h-1.3zM191.3 467.1h1.6v1.7h-1.6zM251.1 454.6h1v1.1h-1zM223.2 455.9h1.2v1.3h-1.2zM246.9 467.5h1.1v1.4h-1.1zM249.2 450.9h1.4v1.3h-1.4zM275.6 457.3h1.5v1.5h-1.5zM221.8 455.7h1.1v1.2h-1.1zM269 461.4h1.6v1.7h-1.6zM263.7 457.7h1.7v1.1h-1.7zM247.1 458.9h1.4v1.2h-1.4zM275.5 466.5h1.9v1.6h-1.9zM229.3 462.6h1.6v1.6h-1.6zM271.2 456.6h1.7v1.8h-1.7zM241.3 466.5h1.9v1.9h-1.9zM241.1 455.8h1.3v1.5h-1.3zM284.6 457.5h1.2v1.1h-1.2zM278 459.3h1v1.5h-1zM269.8 460h1.4v1.1h-1.4zM222.7 463.9h1.3v1.7h-1.3zM210.3 454h1.1v1.4h-1.1zM293 453.3h1.6v1.4h-1.6zM251.8 466.6h1.6v1h-1.6zM271 465.9h1.6v1.7h-1.6zM225.9 453.6h1.7v1.3h-1.7zM188.6 467.9h1.1v1.1h-1.1zM261.7 459.8h1.8v1.6h-1.8zM231.7 453.2h1.4v1.3h-1.4zM197.7 457.7h1.8v1.4h-1.8zM249.6 467.8h1v1.8h-1z"/>
<path fill="#b00000" d="M234.6 447h1.4v1.3h-1.4zM298.6 452.7h1.4v1.6h-1.4zM247 466.4h1.4v1.8h-1.4zM280.3 450.2h1.9v1.6h-1.9zM288.8 461.3h1.2v1.5h-1.2zM280 471h1.4v1.1h-1.4zM213.2 451.8h1.8v1.2h-1.8zM212.8 452.3h1.9v1.2h-1.9zM227.4 459.6h1.7v1.1h-1.7zM253.2 455.8h1.2v1.2h-1.2zM189.7 466.8h1.6v1.2h-1.6zM208.1 463.8h1.9v1.1h-1.9zM256.4 455.7h1.2v1.2h-1.2zM234.3 453.5h1.1v1.8h-1.1zM225.2 451.4h1.4v1.6h-1.4zM193.3 459.1h1.6v1.9h-1.6zM241.5 465h1.8v1.6h-1.8zM267.4 467.8h1.4v1.6h-1.4zM232.4 450.3h1.3v1.3h-1.3zM198 462.2h1.3v1.8h-1.3z"/>
<path fill="#800000" d="M247.5 454.1h1.1v1h-1.1zM245.7 444.1h1.6v1.5h-1.6zM249 454.2h1.4v1.1h-1.4zM253.7 438.9h1.3v1.4h-1.3zM246.6 440.5h1.6v1.1h-1.6zM251.5 438.3h1.7v1.4h-1.7zM246.5 452.5h1.3v1h-1.3zM245.5 454.9h1.1v1.2h-1.1zM245.5 450.3h1.5v1h-1.5zM253.8 448.2h1.2v1.4h-1.2zM246 457.1h1.5v1.2h-1.5zM251.5 438h1.3v1.6h-1.3zM239.9 448.9h1.3v1.4h-1.3zM245.6 441.9h1.8v1h-1.8zM243.8 457h1.2v1h-1.2zM248.1 437.6h1.7v1.7h-1.7zM250.5 443h1.4v1.6h-1.4zM255.1 441.2h1.8v1.3h-1.8zM256 450.4h1.6v1.2h-1.6zM244.1 443.6h1.6v1.1h-1.6zM255 447.9h1.4v1.9h-1.4zM245.3 446.6h1.5v1h-1.5zM251.8 460.5h1.8v1.8h-1.8zM248.6 457.5h1.1v1.3h-1.1zM251.4 451.1h1.1v1.5h-1.1zM251.6 447.2h1.4v1.3h-1.4zM251.3 440.7h1.3v1.6h-1.3zM247.8 448.5h1.6v1.3h-1.6zM244 442.2h1.2v1.8h-1.2zM248 455.2h1.4v1.5h-1.4zM254.2 443.5h1.8v1.7h-1.8zM243.1 451h1.4v1.6h-1.4zM250.9 462.3h1.6v1.3h-1.6zM252.2 445.4h1.3v1.3h-1.3zM241.4 442.9h1.2v1h-1.2zM244.8 440.3h1.8v1.5h-1.8zM253.1 447.7h1.2v1.4h-1.2zM245.8 447h1.7v1.2h-1.7zM254 459.7h1.3v1.7h-1.3zM242.1 441.2h1.3v1.2h-1.3zM251.3 450.9h1.5v1.6h-1.5zM253.4 450.1h1.4v1.6h-1.4zM246 447.8h1.6v1.3h-1.6zM251.3 448.1h1.5v1.7h-1.5zM254.1 440.4h1.1v1.1h-1.1zM243.5 439.9h1.6v1.9h-1.6zM247.6 442.4h1.4v1.5h-1.4zM244.7 443.3h1.5v1.9h-1.5zM255.8 446.4h1.8v1.5h-1.8zM251 437.3h1.4v1.7h-1.4zM253.9 456.7h1.3v1.8h-1.3zM256.8 449.6h1.6v1.5h-1.6zM245.5 443h1.6v1.1h-1.6zM248.7 461.8h1.2v1.4h-1.2zM250.4 441.5h1.5v1.5h-1.5zM245.8 445.1h1.9v1.3h-1.9zM248 449h1.4v1.2h-1.4zM244.8 446.5h1.8v1.3h-1.8zM245 454.1h1.5v1.6h-1.5zM240.8 443.5h1.9v1.6h-1.9zM242.1 448.4h1.8v1.2h-1.8zM242.5 453.6h1.5v1.4h-1.5zM245.5 455.6h1.2v1.5h-1.2zM252.1 450h1.6v1.6h-1.6zM245.4 445h1.8v1.7h-1.8zM255.2 440.9h1.4v1.3h-1.4zM243.7 447.8h1v1.1h-1zM244.5 441.1h1.7v1.3h-1.7zM255.8 450.7h1.2v1.8h-1.2zM252.8 451.3h1.2v1.5h-1.2zM250.1 441.8h1.8v1.6h-1.8zM246.8 437.6h1.3v1.4h-1.3zM248.4 451.6h1.8v1.5h-1.8zM248.8 459h1.8v1h-1.8zM253.3 450.7h1.9v1.2h-1.9zM246.3 457.8h1.5v1.7h-1.5z"/>
<path fill="#ffc800" d="M248.2 439.4h1.9v1.1h-1.9zM252.1 462.2h1.6v1.3h-1.6zM242.7 443.6h1.5v1h-1.5z"/>
<path fill="#ff4600" d="M256.3 449.5h1.2v1.8h-1.2zM252.7 454.1h1.3v1h-1.3zM243.3 445.5h1v1.3h-1zM253.5 444.4h1.5v1.4h-1.5zM256.3 448.9h1.4v1.4h-1.4zM247.8 452.6h1.1v1.2h-1.1z"/>
<path fill="#b00000" d="M249.1 453.2h1.9v1.7h-1.9zM246.5 452.3h1.7v1.5h-1.7zM244.5 440.6h1.7v1.2h-1.7zM242.3 445.1h1.5v1.1h-1.5zM255.6 449.8h1.6v1.9h-1.6z"/>
<path fill="#800000" d="M329.1 446.8h1.6v1.4h-1.6zM345.6 447.6h1.2v1.7h-1.2zM343.8 447.9h1.6v1.2h-1.6zM320.1 445.7h1.7v1.4h-1.7zM305.6 446.4h1.3v1.9h-1.3zM335.3 446.4h1.3v1.8h-1.3zM354.6 448.6h1.6v1.7h-1.6zM321.7 449.2h1.5v1.1h-1.5zM352.8 448.7h1.6v1.3h-1.6zM311.8 448.4h1.2v1.8h-1.2zM337.2 447.1h1.4v1.1h-1.4zM347.8 448.6h1.6v1.4h-1.6zM305.2 450.2h1.4v1.7h-1.4zM307.4 449.1h1.2v1.4h-1.2zM336.7 446.9h1.4v1.1h-1.4zM322.6 447.1h1.3v1.6h-1.3zM358.2 451.5h1.5v1.3h-1.5zM323.9 448.4h1.8v1.3h-1.8zM346.4 445.8h1.3v1.8h-1.3zM336.8 448h1.7v1.4h-1.7zM328.1 445.7h1.1v1.6h-1.1zM336.4 446h1.1v1.1h-1.1zM307.6 450.8h1.6v1.8h-1.6zM346.7 448.1h1.6v1.1h-1.6zM305 451h1.9v1.4h-1.9zM305.1 450.7h1.5v1h-1.5zM310.4 447.6h1.9v1.7h-1.9zM357 449.9h1.1v1.7h-1.1zM306.8 448.8h1.4v1.1h-1.4zM304.4 448.6h1.5v1.1h-1.5zM316.9 446.1h1.3v1.2h-1.3zM319 446.7h1.7v1.5h-1.7zM311.3 447.3h1.4v1.4h-1.4zM323.1 445.4h1.7v1.1h-1.7zM342.7 445.7h1v1.5h-1z"/>
<path fill="#b00000" d="M353.5 449.7h1.4v1.7h-1.4zM338.7 448.2h1.6v1.6h-1.6zM313.3 448.9h1.4v1.1h-1.4z"/>
<path fill="#ff4600" d="M347.5 446h1.8v1.4h-1.8z"/>
<path fill="#ffc800" d="M322.3 449.7h1.1v1.6h-1.1z"/>
<path fill="#800000" d="M134.6 517.4h1.1v1.5h-1.1zM135.2 513.8h1v1.4h-1zM131 515.1h1.7v1.1h-1.7zM132.1 516.1h1.7v1.2h-1.7zM138.3 536.1h1.5v1.1h-1.5zM130.9 519.5h1.4v1.3h-1.4zM138.4 529h1.7v1.6h-1.7zM133.5 533.7h1.8v1.7h-1.8zM131.7 527.7h1.1v1.4h-1.1zM130.6 537.3h1.5v1.8h-1.5zM134.5 538.3h1.5v1.4h-1.5zM136.8 537.1h1.6v1.6h-1.6zM134.1 526.4h1v1.4h-1zM132.4 516.1h1.7v1.1h-1.7zM137.9 545.5h1.8v1.3h-1.8zM132.5 520.5h1.4v1.5h-1.4zM136 525.8h1.9v1.6h-1.9zM137.4 535.3h1v1.8h-1zM141.4 526.7h1.1v1.6h-1.1zM130.9 514.2h1.1v1.3h-1.1zM132.2 515.5h1v1.8h-1zM138.8 517.3h1.3v1.3h-1.3zM131.2 515.5h1.2v1.7h-1.2zM137.8 512.6h1.9v1.8h-1.9zM140 521.6h1.2v1.7h-1.2zM137.6 541.5h1.2v1.7h-1.2zM140.6 520.3h1.3v1h-1.3zM130.4 522.3h1.6v1.9h-1.6zM133.2 520.3h1.2v1.6h-1.2zM136.9 536.7h1.1v1.6h-1.1zM140.7 530h1.7v1.3h-1.7zM139.4 525.1h1.1v1h-1.1zM137.5 547.5h1.8v1.7h-1.8zM133 521.3h1.2v1.5h-1.2zM133.7 527.7h1.8v1.3h-1.8zM137.2 532h1v1.4h-1zM141.4 518.2h1.7v1.5h-1.7zM134.7 531.5h1.7v1.1h-1.7zM138 521.1h1.7v1.5h-1.7zM137.2 531.3h1.4v1.5h-1.4zM136.8 547.8h1.8v1.8h-1.8zM131.7 528.6h1.2v1.1h-1.2zM136.2 531.4h1.2v1.3h-1.2zM140.3 512.3h1.4v1h-1.4zM134.7 535.6h1.1v1.9h-1.1zM131.5 521.8h1.7v1.2h-1.7zM132.1 546.9h1.6v1.1h-1.6zM130.8 538h1.1v1.8h-1.1zM139.1 542.4h1.8v1.1h-1.8zM142.3 529h1.5v1.8h-1.5zM133.8 516.6h1.2v1.1h-1.2zM132.3 513.5h1.3v1.3h-1.3zM140.9 522.7h1.2v1.3h-1.2zM130.3 521.2h1.7v1.5h-1.7zM136.2 530.6h1.4v1.5h-1.4zM134.9 543.6h1.6v1.4h-1.6zM135 513.7h1.1v1.7h-1.1zM133.7 517.9h1.8v1.8h-1.8zM139.6 522.4h1.3v1.4h-1.3zM132.3 528.7h1.9v1.9h-1.9zM130 526.3h1.5v1.2h-1.5zM137.2 511.8h1.1v1.4h-1.1zM130.6 512.5h1.2v1.5h-1.2zM137.6 540.4h1.6v1.8h-1.6z"/>
<path fill="#ff4600" d="M133.2 535.7h1.5v1.4h-1.5zM132.3 512.5h1.5v1.1h-1.5zM135.7 527h1.7v1.2h-1.7zM133.7 533.1h1.8v1.1h-1.8zM132.7 529.8h1.1v1.7h-1.1zM137.8 521h1.3v1.3h-1.3z"/>
<path fill="#b00000" d="M133.5 526.6h1.1v1.4h-1.1zM135.9 525.4h1.9v1.1h-1.9zM131.8 517.4h1.7v1.1h-1.7zM136.6 534h1.4v1.8h-1.4zM138 540.8h1.4v1.6h-1.4zM139.6 541.7h1.1v1.6h-1.1zM139.4 517.1h1.9v1.2h-1.9zM131.9 527.8h1.7v1.2h-1.7z"/>
<path fill="#ffc800" d="M131.8 544.2h1.4v1.4h-1.4zM136.4 547.6h1.9v1.3h-1.9z"/>
<path fill="#800000" d="M138.5 499h1.2v1.9h-1.2zM143.5 496.2h1.4v1.4h-1.4zM139 501.6h1.6v1.6h-1.6zM172.7 477.7h1v1.3h-1zM166 480.7h1.1v1.1h-1.1zM162 483.8h1.5v1.6h-1.5zM189.3 470.8h1.1v1.3h-1.1zM133 510.5h1.9v1.5h-1.9zM154.4 483.9h1.2v1.4h-1.2zM137.4 499.9h1.6v1h-1.6zM152.7 487h1.9v1.7h-1.9zM152.5 486.8h1.5v1.8h-1.5zM154.2 487h1.1v1.2h-1.1zM175.6 472.8h1.5v1.7h-1.5zM160.1 484.1h1.5v1.3h-1.5zM138.6 504.9h1.9v1.5h-1.9zM143.9 491.2h1.7v1.6h-1.7zM139.5 498.3h1.2v1.5h-1.2zM138.6 510.4h1.6v1.9h-1.6zM137.4 512h1.5v1.6h-1.5zM151.6 484.4h1.3v1.6h-1.3zM159 484.9h1.6v1.2h-1.6zM139.7 504.2h1.7v1.7h-1.7zM144 496h1.8v1.2h-1.8zM173.8 477.3h1.9v1.7h-1.9zM172.4 477.9h1.6v1.2h-1.6zM142.2 503.5h1.8v1.7h-1.8zM166.5 476.8h1.5v1.2h-1.5zM176.7 473.2h1.8v1.6h-1.8zM153.2 489.3h1.6v1.1h-1.6zM151 484.9h1.4v1.1h-1.4zM154.9 487.7h1.7v1.1h-1.7zM138 508.6h1.6v1.8h-1.6zM172.7 476.4h1.6v1.6h-1.6zM157.4 484.2h1.1v1.2h-1.1zM137 505.2h1.1v1.4h-1.1zM150.8 490.9h1.5v1.7h-1.5zM181.5 475h1.3v1.8h-1.3zM154 487.4h1.1v1.4h-1.1zM160.6 482.7h1.3v1.9h-1.3zM186.8 470.3h1.7v1.1h-1.7zM139.2 504h1.8v1.7h-1.8zM176.4 475.2h1.9v1.7h-1.9zM139.4 507h1v1.6h-1zM183.7 473.2h1.5v1.6h-1.5zM172.2 473.7h1v1.3h-1zM164.6 477h1.3v1.6h-1.3zM175.4 472.2h1.3v1.8h-1.3zM160.6 484.6h1.9v1.7h-1.9zM146.5 489.2h1.6v1.8h-1.6zM141.1 500.2h1.2v1.1h-1.2zM183.6 473.5h1v1.6h-1zM135.7 505.5h1.5v1.2h-1.5zM182.7 473h1.7v1.6h-1.7zM168.8 475h1v1.4h-1zM169.8 478h1.8v1.1h-1.8zM186.2 471.5h1.8v1.4h-1.8zM163.9 479.6h1.8v1.1h-1.8zM151.8 489.5h1.4v1.1h-1.4zM154.4 484.7h1.3v1.4h-1.3zM167.2 477.5h1.3v1.1h-1.3zM164.4 481.9h1.8v1.4h-1.8zM138.2 499.8h1.4v1.2h-1.4z"/>
<path fill="#ffc800" d="M148.6 492.1h1.3v1.8h-1.3z"/>
<path fill="#b00000" d="M161 480.2h1.4v1.3h-1.4zM140.5 502.9h1.3v1.5h-1.3zM135.9 510.9h1.8v1.5h-1.8zM139.2 510.1h1.5v1.8h-1.5z"/>
<path fill="#ff4600" d="M139.7 499.2h1.6v1.3h-1.6zM142.9 501.2h1.5v1.5h-1.5z"/>
<path fill="#800000" d="M555.4 285.5h1.8v1h-1.8zM561.9 264.6h1.6v1.4h-1.6zM566.5 271.9h1.1v1.5h-1.1zM567.3 268.4h1.6v1.7h-1.6zM553.7 267.5h1.2v1.3h-1.2zM551.9 293h1.4v1.8h-1.4zM540.7 299.6h1.5v1.8h-1.5zM553.6 287.1h1.1v1.5h-1.1zM561.5 271.4h1.9v1.9h-1.9zM568.5 267.5h1.8v1.5h-1.8zM569.6 282.7h1.2v1.4h-1.2zM565.8 277.6h1.4v1.2h-1.4zM551.5 304.1h1.8v1.2h-1.8zM538.1 323.4h1.9v1.9h-1.9zM561.5 262.7h1.2v1.3h-1.2zM559.6 270.6h1.5v1.6h-1.5zM558.2 272.9h1.1v1.7h-1.1zM543.4 290.8h1.3v1.2h-1.3zM538.8 302.5h1.3v1.7h-1.3zM566.3 268.5h1.4v1.4h-1.4zM562.7 265.3h1.3v1.8h-1.3zM545.7 313.9h1.6v1.8h-1.6zM543.9 300.3h1.1v1.3h-1.1zM555.8 295.7h1.7v1.3h-1.7zM545.7 311.1h1.2v1.1h-1.2zM555.6 294.9h1.6v1.2h-1.6zM546.8 294.6h1.4v1.8h-1.4zM569.6 265.6h1.8v1.5h-1.8zM576.6 267.9h1.2v1.5h-1.2zM547.6 291.1h1.5v1.4h-1.5zM558.8 273.9h1.6v1.1h-1.6zM562.3 283.3h1.5v1.7h-1.5zM544.9 296.1h1v1.5h-1zM549.6 314.5h1.1v1.6h-1.1zM548 295.6h1v1.8h-1zM565 284.6h1.3v1.3h-1.3zM564.7 263.3h1.8v1.6h-1.8zM555 304.8h1.3v1.7h-1.3zM550.6 299.9h1.8v1h-1.8zM543.8 311h1.1v1.1h-1.1zM576.5 267.3h1.8v1.7h-1.8zM538.4 315.8h1.2v1.7h-1.2zM542 298.2h1.6v1.5h-1.6zM548 292.4h1.8v1.6h-1.8zM540 322.7h1.2v1.6h-1.2zM549.1 315.6h1v1.4h-1zM551.5 302.2h1.8v1.5h-1.8zM536.8 314.9h1.3v1.5h-1.3zM565.6 266.8h1.6v1.8h-1.6zM548.1 312.3h1.7v1.1h-1.7zM564.6 276h1.4v1.1h-1.4zM563.1 288.7h1.4v1.4h-1.4zM541 298.4h1.5v1.3h-1.5z"/>
<path fill="#ff4600" d="M570 274.6h1.8v1h-1.8zM562.4 268.5h1v1.7h-1zM543.1 307.1h1.8v1.4h-1.8zM537.2 324.6h1.5v1.5h-1.5zM547.6 280.9h1.9v1.7h-1.9zM556.7 283.9h1.4v1.2h-1.4zM563.3 286.9h1.5v1.1h-1.5zM543.7 300.6h1.5v1h-1.5zM556.8 265.8h1.4v1.4h-1.4zM551.3 303.7h1.3v1.5h-1.3z"/>
<path fill="#ffc800" d="M543.2 300.4h1v1.5h-1zM541.1 306.4h1.2v1.6h-1.2zM555 287.3h1.5v1h-1.5zM568.9 262.5h1.5v1.9h-1.5zM541 321.1h1.3v1.7h-1.3zM544.9 296.2h1.2v1.2h-1.2zM573.5 264.1h1.3v1.4h-1.3z"/>
<path fill="#800000" d="M647.2 199.7h1.7v1.1h-1.7zM701.1 180.3h1.4v1.2h-1.4zM682.2 184.1h1.3v1.4h-1.3zM632.6 222.8h1.9v1h-1.9zM674.4 188.3h1.9v1.4h-1.9zM691.2 181.6h1.2v1h-1.2zM694.1 182.4h1.9v1.9h-1.9zM644.1 200h1.8v1.6h-1.8zM648.7 201.1h1.5v1h-1.5zM659.3 190.6h1.1v1.7h-1.1zM664 194h1.1v1.2h-1.1zM705.2 180.5h1.7v1.4h-1.7zM685.9 183.5h1.6v1.3h-1.6zM717.1 171.3h1.7v1.2h-1.7zM671 185.2h1.4v1.7h-1.4zM658.9 193.2h1.8v1.2h-1.8zM648.1 202.7h1.5v1.8h-1.5zM638.2 212.7h1.1v1.6h-1.1zM641.1 207.6h1.2v1.1h-1.2zM673.1 185.1h1.8v1.3h-1.8zM635.4 225h1.3v1.5h-1.3zM676.3 185.9h1.6v1.2h-1.6zM711.6 175.3h1.2v1.5h-1.2zM657.9 197.1h1.3v1.6h-1.3zM693.4 183.8h1.4v1h-1.4zM656.5 191.8h1.3v1.3h-1.3zM704.4 181.4h1.6v1.2h-1.6zM667 195.2h1.8v1.5h-1.8zM635.8 212.1h1.7v1.5h-1.7zM635.6 210.3h1.2v1.3h-1.2zM637 222.9h1.6v1.8h-1.6zM636.5 221.9h1.4v1.3h-1.4zM686.6 181.1h1v1.1h-1z"/>
<path fill="#ffffff" d="M637.2 214.4h1.8v1.3h-1.8zM634.4 225.8h1.6v1.2h-1.6zM654.7 195.9h1.2v1.3h-1.2zM690.6 181.7h1.8v1.6h-1.8zM670.6 186h1.4v1.6h-1.4zM701.3 180h1.7v1.1h-1.7zM714.4 175h1.5v1.3h-1.5zM654.7 197.4h1.4v1.7h-1.4zM694.9 185.1h1.7v1.4h-1.7zM700.4 177.3h1.6v1h-1.6zM691.3 181h1.1v1h-1.1zM712.5 175.5h1.9v1.4h-1.9zM661 197.2h1.3v1.6h-1.3zM636.1 224.8h1.5v1.5h-1.5zM707.9 174.6h1.5v1.4h-1.5zM662.8 191.2h1.4v1.3h-1.4zM688 184.2h1.7v1.5h-1.7zM668.1 194.4h1.7v1.9h-1.7zM664.9 189.2h1v1.4h-1zM662.7 196.9h1.9v1.1h-1.9zM647.3 201.8h1v1.2h-1zM648.5 197.1h1.3v1.5h-1.3zM646.3 200.1h1.5v1.3h-1.5zM639.7 216h1.5v1.9h-1.5zM633.7 222.1h1.4v1.8h-1.4zM693.5 181.4h1.2v1.6h-1.2zM682.9 183.3h1.8v1.6h-1.8z"/>
<path fill="#800000" d="M517.7 346.3h1.2v1.7h-1.2zM505 349.8h1.2v1.9h-1.2zM508.8 355.6h1.6v1.6h-1.6zM513.5 332.5h1.8v1.1h-1.8zM507 345.7h1.4v1.7h-1.4zM511.6 352.8h1.7v1.1h-1.7zM507.6 340.4h1.2v1.1h-1.2zM514.1 336.3h1.7v1.7h-1.7zM514.9 343.2h1v1.6h-1zM510.3 342.1h1.4v1.5h-1.4zM512.1 363h1.2v1.5h-1.2zM518.7 332.4h1.4v1.4h-1.4zM513 352.2h1.4v1.1h-1.4zM512.9 331.3h1.5v1h-1.5zM515 347.4h1.5v1.4h-1.5zM521.6 346.1h1.8v1.1h-1.8zM507.4 353.5h1.6v1.5h-1.6zM525.7 348.2h1.9v1.4h-1.9zM530.4 340.8h1.1v1.5h-1.1zM528.5 337.3h1.1v1.2h-1.1zM523.1 356.4h1.4v1.6h-1.4zM517.2 340.1h1.6v1.6h-1.6zM502.2 346.1h1v1.2h-1zM514.2 358.9h1.3v1.6h-1.3zM515.7 349.3h1.4v1.3h-1.4zM522.5 348.3h1.4v1.4h-1.4zM521.4 357.4h1.4v1.7h-1.4zM522.3 332.5h1.8v1h-1.8zM510.2 342.2h1.5v1.3h-1.5zM505.8 336.4h1.7v1.8h-1.7z"/>
<path fill="#ff4600" d="M530.9 331.7h1.5v1.3h-1.5zM509.4 343.9h1.3v1.5h-1.3zM520.4 350.3h1.1v1.5h-1.1zM505.2 360.7h1.4v1.4h-1.4zM527.5 331.8h1.7v1.9h-1.7zM506.5 353.2h1.8v1.6h-1.8z"/>
<path fill="#ffc800" d="M504.1 359.2h1.9v1.6h-1.9zM506.4 333.6h1.8v1.4h-1.8z"/>
</g>
<rect x="129.5" y="162.0" width="710.7" height="698.2" fill="none" stroke="#222" stroke-width="1.2"/>
<path d="M185.75 860.2V876.7M279.30 860.2V876.7M372.85 860.2V876.7M466.40 860.2V876.7M559.95 860.2V876.7M653.50 860.2V876.7M747.05 860.2V876.7M129.5 177.40H112.7M129.5 271.00H112.7M129.5 364.60H112.7M129.5 458.20H112.7M129.5 551.80H112.7M129.5 645.40H112.7M129.5 739.00H112.7M129.5 832.60H112.7" stroke="#222" stroke-width="1.2" fill="none"/>
<text x="98.6" y="185.7" font-size="23.1" text-anchor="end">45°N</text>
<text x="98.6" y="279.3" font-size="23.1" text-anchor="end">40°N</text>
<text x="98.6" y="372.9" font-size="23.1" text-anchor="end">35°N</text>
<text x="98.6" y="466.5" font-size="23.1" text-anchor="end">30°N</text>
<text x="98.6" y="560.1" font-size="23.1" text-anchor="end">25°N</text>
<text x="98.6" y="653.7" font-size="23.1" text-anchor="end">20°N</text>
<text x="98.6" y="747.3" font-size="23.1" text-anchor="end">15°N</text>
<text x="98.6" y="840.9" font-size="23.1" text-anchor="end">10°N</text>
<text x="185.2" y="910.5" font-size="22.9" text-anchor="middle">95°W</text>
<text x="278.7" y="910.5" font-size="22.9" text-anchor="middle">90°W</text>
<text x="372.2" y="910.5" font-size="22.9" text-anchor="middle">85°W</text>
<text x="465.8" y="910.5" font-size="22.9" text-anchor="middle">80°W</text>
<text x="559.4" y="910.5" font-size="22.9" text-anchor="middle">75°W</text>
<text x="652.9" y="910.5" font-size="22.9" text-anchor="middle">70°W</text>
<text x="746.5" y="910.5" font-size="22.9" text-anchor="middle">65°W</text>
<text x="484" y="945" font-size="22.9" text-anchor="middle">Longitude</text>
<text transform="translate(40.9 511.5) rotate(-90)" font-size="22.9" text-anchor="middle">Latitude</text>
<text x="164" y="134" font-size="25.8">2021011101</text>
<text x="656" y="128.4" font-size="25.6">Elevation (m)</text>
<rect x="878.7" y="169.10" width="42.2" height="31.11" fill="#800000"/>
<rect x="878.7" y="200.21" width="42.2" height="31.11" fill="#b00000"/>
<rect x="878.7" y="231.32" width="42.2" height="31.11" fill="#e00000"/>
<rect x="878.7" y="262.43" width="42.2" height="31.11" fill="#ff1400"/>
<rect x="878.7" y="293.54" width="42.2" height="31.11" fill="#ff4600"/>
<rect x="878.7" y="324.65" width="42.2" height="31.11" fill="#ff7000"/>
<rect x="878.7" y="355.76" width="42.2" height="31.11" fill="#ff9c00"/>
<rect x="878.7" y="386.87" width="42.2" height="31.11" fill="#ffc800"/>
<rect x="878.7" y="417.98" width="42.2" height="31.11" fill="#fff000"/>
<rect x="878.7" y="449.09" width="42.2" height="31.11" fill="#d8ff28"/>
<rect x="878.7" y="480.20" width="42.2" height="31.11" fill="#a8ff50"/>
<rect x="878.7" y="511.31" width="42.2" height="31.11" fill="#80ff80"/>
<rect x="878.7" y="542.42" width="42.2" height="31.11" fill="#50ffb0"/>
<rect x="878.7" y="573.53" width="42.2" height="31.11" fill="#20ffe0"/>
<rect x="878.7" y="604.64" width="42.2" height="31.11" fill="#00f0ff"/>
<rect x="878.7" y="635.75" width="42.2" height="31.11" fill="#00c8ff"/>
<rect x="878.7" y="666.86" width="42.2" height="31.11" fill="#0096ff"/>
<rect x="878.7" y="697.97" width="42.2" height="31.11" fill="#0064ff"/>
<rect x="878.7" y="729.08" width="42.2" height="31.11" fill="#0032ff"/>
<rect x="878.7" y="760.19" width="42.2" height="31.11" fill="#0000fa"/>
<rect x="878.7" y="791.30" width="42.2" height="31.11" fill="#0000cc"/>
<rect x="878.7" y="822.41" width="42.2" height="31.11" fill="#0000a8"/>
<path d="M878.7 200.21H920.9M878.7 231.32H920.9M878.7 262.43H920.9M878.7 293.54H920.9M878.7 324.65H920.9M878.7 355.76H920.9M878.7 386.87H920.9M878.7 417.98H920.9M878.7 449.09H920.9M878.7 480.20H920.9M878.7 511.31H920.9M878.7 542.42H920.9M878.7 573.53H920.9M878.7 604.64H920.9M878.7 635.75H920.9M878.7 666.86H920.9M878.7 697.97H920.9M878.7 729.08H920.9M878.7 760.19H920.9M878.7 791.30H920.9M878.7 822.41H920.9" stroke="#111" stroke-width="1" fill="none"/>
<rect x="878.7" y="169.10" width="42.2" height="684.42" fill="none" stroke="#222" stroke-width="1"/>
<text x="960" y="211.8" font-size="32.5" text-anchor="middle">2</text>
<text x="960" y="274.0" font-size="32.5" text-anchor="middle">1.6</text>
<text x="960" y="336.2" font-size="32.5" text-anchor="middle">1.2</text>
<text x="960" y="398.5" font-size="32.5" text-anchor="middle">0.8</text>
<text x="960" y="460.7" font-size="32.5" text-anchor="middle">0.4</text>
<text x="960" y="522.9" font-size="32.5" text-anchor="middle">0</text>
<text x="960" y="585.1" font-size="32.5" text-anchor="middle">-0.4</text>
<text x="960" y="647.4" font-size="32.5" text-anchor="middle">-0.8</text>
<text x="960" y="709.6" font-size="32.5" text-anchor="middle">-1.2</text>
<text x="960" y="771.8" font-size="32.5" text-anchor="middle">-1.6</text>
<text x="960" y="834.0" font-size="32.5" text-anchor="middle">-2</text>
</svg></body></html>
